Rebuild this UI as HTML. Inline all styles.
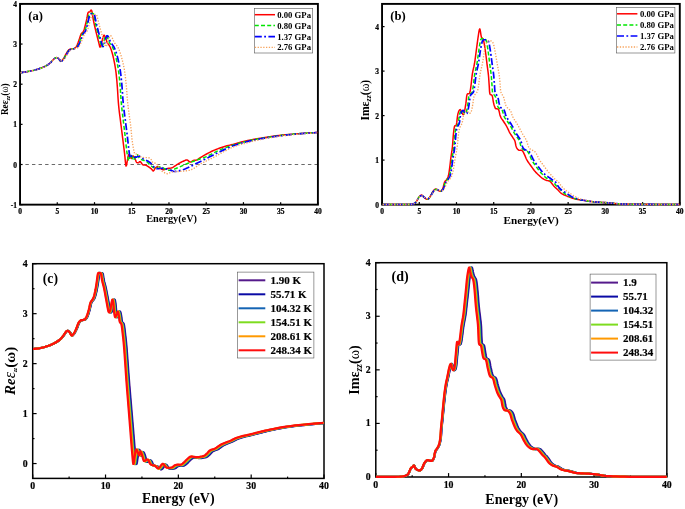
<!DOCTYPE html>
<html><head><meta charset="utf-8"><title>Dielectric function plots</title>
<style>html,body{margin:0;padding:0;background:#fff}svg{display:block;will-change:transform}</style></head>
<body>
<svg width="685" height="509" viewBox="0 0 685 509">
<rect width="685" height="509" fill="#fff"/>
<g id="panelA">
<line x1="20.05" x2="317.9" y1="164.5" y2="164.5" stroke="#444" stroke-width="0.8" stroke-dasharray="3.4 3.17" stroke-dashoffset="1.2"/>
<clipPath id="ca"><rect x="20.05" y="3.9" width="297.84999999999997" height="200.75"/></clipPath>
<rect x="20.05" y="3.9" width="297.84999999999997" height="200.75" fill="none" stroke="#000" stroke-width="1.9"/>
<line x1="20.05" x2="20.05" y1="204.65" y2="202.15" stroke="#000" stroke-width="1.2"/>
<text x="20.05" y="214.0" font-size="7.5" text-anchor="middle" font-family="'Liberation Serif','DejaVu Serif',serif" font-weight="bold"  stroke="#000" stroke-width="0.22">0</text>
<line x1="57.28" x2="57.28" y1="204.65" y2="202.15" stroke="#000" stroke-width="1.2"/>
<text x="57.28" y="214.0" font-size="7.5" text-anchor="middle" font-family="'Liberation Serif','DejaVu Serif',serif" font-weight="bold"  stroke="#000" stroke-width="0.22">5</text>
<line x1="94.51" x2="94.51" y1="204.65" y2="202.15" stroke="#000" stroke-width="1.2"/>
<text x="94.51" y="214.0" font-size="7.5" text-anchor="middle" font-family="'Liberation Serif','DejaVu Serif',serif" font-weight="bold"  stroke="#000" stroke-width="0.22">10</text>
<line x1="131.74" x2="131.74" y1="204.65" y2="202.15" stroke="#000" stroke-width="1.2"/>
<text x="131.74" y="214.0" font-size="7.5" text-anchor="middle" font-family="'Liberation Serif','DejaVu Serif',serif" font-weight="bold"  stroke="#000" stroke-width="0.22">15</text>
<line x1="168.97" x2="168.97" y1="204.65" y2="202.15" stroke="#000" stroke-width="1.2"/>
<text x="168.97" y="214.0" font-size="7.5" text-anchor="middle" font-family="'Liberation Serif','DejaVu Serif',serif" font-weight="bold"  stroke="#000" stroke-width="0.22">20</text>
<line x1="206.21" x2="206.21" y1="204.65" y2="202.15" stroke="#000" stroke-width="1.2"/>
<text x="206.21" y="214.0" font-size="7.5" text-anchor="middle" font-family="'Liberation Serif','DejaVu Serif',serif" font-weight="bold"  stroke="#000" stroke-width="0.22">25</text>
<line x1="243.44" x2="243.44" y1="204.65" y2="202.15" stroke="#000" stroke-width="1.2"/>
<text x="243.44" y="214.0" font-size="7.5" text-anchor="middle" font-family="'Liberation Serif','DejaVu Serif',serif" font-weight="bold"  stroke="#000" stroke-width="0.22">30</text>
<line x1="280.67" x2="280.67" y1="204.65" y2="202.15" stroke="#000" stroke-width="1.2"/>
<text x="280.67" y="214.0" font-size="7.5" text-anchor="middle" font-family="'Liberation Serif','DejaVu Serif',serif" font-weight="bold"  stroke="#000" stroke-width="0.22">35</text>
<line x1="317.90" x2="317.90" y1="204.65" y2="202.15" stroke="#000" stroke-width="1.2"/>
<text x="317.90" y="214.0" font-size="7.5" text-anchor="middle" font-family="'Liberation Serif','DejaVu Serif',serif" font-weight="bold"  stroke="#000" stroke-width="0.22">40</text>
<line x1="20.05" x2="22.55" y1="204.65" y2="204.65" stroke="#000" stroke-width="1.2"/>
<text x="17.0" y="207.65" font-size="7.5" text-anchor="end" font-family="'Liberation Serif','DejaVu Serif',serif" font-weight="bold"  stroke="#000" stroke-width="0.22">-1</text>
<line x1="20.05" x2="22.55" y1="164.50" y2="164.50" stroke="#000" stroke-width="1.2"/>
<text x="17.0" y="167.50" font-size="7.5" text-anchor="end" font-family="'Liberation Serif','DejaVu Serif',serif" font-weight="bold"  stroke="#000" stroke-width="0.22">0</text>
<line x1="20.05" x2="22.55" y1="124.35" y2="124.35" stroke="#000" stroke-width="1.2"/>
<text x="17.0" y="127.35" font-size="7.5" text-anchor="end" font-family="'Liberation Serif','DejaVu Serif',serif" font-weight="bold"  stroke="#000" stroke-width="0.22">1</text>
<line x1="20.05" x2="22.55" y1="84.20" y2="84.20" stroke="#000" stroke-width="1.2"/>
<text x="17.0" y="87.20" font-size="7.5" text-anchor="end" font-family="'Liberation Serif','DejaVu Serif',serif" font-weight="bold"  stroke="#000" stroke-width="0.22">2</text>
<line x1="20.05" x2="22.55" y1="44.05" y2="44.05" stroke="#000" stroke-width="1.2"/>
<text x="17.0" y="47.05" font-size="7.5" text-anchor="end" font-family="'Liberation Serif','DejaVu Serif',serif" font-weight="bold"  stroke="#000" stroke-width="0.22">3</text>
<line x1="20.05" x2="22.55" y1="3.90" y2="3.90" stroke="#000" stroke-width="1.2"/>
<text x="17.0" y="6.90" font-size="7.5" text-anchor="end" font-family="'Liberation Serif','DejaVu Serif',serif" font-weight="bold"  stroke="#000" stroke-width="0.22">4</text>
<text x="171.6" y="222.4" font-size="10.3" text-anchor="middle" font-family="'Liberation Serif','DejaVu Serif',serif" font-weight="bold" >Energy(eV)</text>
<text transform="translate(8.2,99.2) rotate(-90)" font-size="9.3" text-anchor="middle" font-family="'Liberation Serif','DejaVu Serif',serif" font-weight="bold">Reε<tspan font-size="6" font-style="italic" dy="2">zz</tspan><tspan dy="-2">(</tspan><tspan font-weight="normal">ω</tspan>)</text>
<g clip-path="url(#ca)" fill="none" stroke-linejoin="round">
<path d="M20.30,72.80 L21.43,72.60 L23.06,72.33 L24.88,72.01 L26.60,71.70 L28.18,71.42 L29.76,71.14 L31.33,70.84 L32.90,70.50 L34.45,70.11 L36.00,69.68 L37.55,69.21 L39.10,68.70 L40.70,68.15 L42.32,67.56 L43.91,66.91 L45.40,66.20 L46.80,65.40 L48.14,64.52 L49.38,63.61 L50.50,62.70 L51.47,61.76 L52.30,60.78 L53.06,59.86 L53.80,59.10 L54.53,58.49 L55.21,57.98 L55.87,57.64 L56.50,57.50 L57.11,57.64 L57.69,58.00 L58.26,58.49 L58.80,59.00 L59.31,59.65 L59.78,60.46 L60.26,61.13 L60.80,61.40 L61.41,61.15 L62.07,60.54 L62.74,59.71 L63.40,58.80 L64.03,57.78 L64.65,56.59 L65.27,55.36 L65.90,54.20 L66.55,53.07 L67.21,51.93 L67.87,50.90 L68.50,50.10 L69.08,49.60 L69.64,49.32 L70.20,49.16 L70.80,49.00 L71.48,48.87 L72.21,48.82 L72.93,48.75 L73.60,48.60 L74.20,48.36 L74.77,48.08 L75.30,47.70 L75.80,47.20 L76.25,46.58 L76.66,45.85 L77.07,45.00 L77.50,44.00 L77.99,42.79 L78.50,41.40 L79.01,39.96 L79.50,38.60 L79.93,37.30 L80.33,36.02 L80.74,34.82 L81.20,33.80 L81.74,33.10 L82.34,32.64 L82.95,32.13 L83.50,31.30 L83.99,30.01 L84.45,28.43 L84.88,26.74 L85.30,25.10 L85.70,23.55 L86.09,21.99 L86.45,20.44 L86.80,18.90 L87.11,17.25 L87.39,15.52 L87.67,13.96 L88.00,12.80 L88.39,12.23 L88.83,12.08 L89.28,12.07 L89.70,11.90 L90.10,11.41 L90.49,10.79 L90.86,10.27 L91.20,10.10 L91.48,10.31 L91.72,10.77 L91.95,11.52 L92.20,12.60 L92.47,14.09 L92.74,15.96 L93.05,18.02 L93.40,20.10 L93.83,22.24 L94.31,24.49 L94.81,26.75 L95.30,28.90 L95.77,30.89 L96.25,32.78 L96.72,34.64 L97.20,36.50 L97.70,38.48 L98.21,40.52 L98.69,42.43 L99.10,44.00 L99.40,45.28 L99.62,46.34 L99.84,47.04 L100.10,47.20 L100.44,46.65 L100.83,45.52 L101.23,44.13 L101.60,42.80 L101.94,41.51 L102.27,40.13 L102.59,38.81 L102.90,37.70 L103.20,36.77 L103.50,35.98 L103.80,35.41 L104.10,35.20 L104.40,35.41 L104.71,35.98 L105.03,36.78 L105.40,37.70 L105.83,38.85 L106.31,40.25 L106.81,41.65 L107.30,42.80 L107.78,43.58 L108.26,44.12 L108.73,44.64 L109.20,45.30 L109.65,46.11 L110.09,46.98 L110.54,47.99 L111.00,49.20 L111.48,50.61 L111.98,52.20 L112.49,53.99 L113.00,56.00 L113.54,58.36 L114.10,61.02 L114.64,63.75 L115.10,66.30 L115.47,68.52 L115.76,70.56 L116.03,72.67 L116.30,75.10 L116.59,77.98 L116.88,81.16 L117.15,84.46 L117.40,87.70 L117.62,90.92 L117.81,94.18 L118.00,97.35 L118.20,100.30 L118.40,102.86 L118.60,105.15 L118.82,107.44 L119.10,110.00 L119.44,112.89 L119.84,115.96 L120.26,119.21 L120.70,122.60 L121.15,126.20 L121.63,129.99 L122.12,133.87 L122.60,137.70 L123.08,141.52 L123.57,145.37 L124.05,149.16 L124.50,152.80 L124.91,156.68 L125.28,160.70 L125.64,164.07 L126.00,166.00 L126.36,165.90 L126.71,164.33 L127.06,162.17 L127.40,160.30 L127.73,158.71 L128.04,157.01 L128.36,155.53 L128.70,154.60 L129.07,154.40 L129.46,154.74 L129.84,155.33 L130.20,155.90 L130.51,156.56 L130.80,157.39 L131.09,158.10 L131.40,158.40 L131.75,158.02 L132.12,157.19 L132.50,156.33 L132.90,155.90 L133.31,156.01 L133.72,156.42 L134.16,157.05 L134.60,157.80 L135.06,158.81 L135.54,160.08 L136.02,161.31 L136.50,162.20 L136.98,162.66 L137.46,162.85 L137.93,162.87 L138.40,162.80 L138.84,162.53 L139.26,162.04 L139.70,161.64 L140.20,161.60 L140.78,162.13 L141.42,163.04 L142.10,164.00 L142.80,164.70 L143.54,165.00 L144.32,165.07 L145.11,165.12 L145.90,165.30 L146.69,165.68 L147.48,166.17 L148.26,166.69 L149.00,167.20 L149.71,167.67 L150.39,168.15 L151.02,168.62 L151.60,169.10 L152.08,169.69 L152.48,170.37 L152.86,170.88 L153.30,171.00 L153.80,170.51 L154.34,169.59 L154.90,168.58 L155.50,167.80 L156.13,167.27 L156.79,166.85 L157.49,166.60 L158.20,166.60 L158.96,166.99 L159.76,167.68 L160.56,168.44 L161.30,169.00 L161.94,169.34 L162.51,169.58 L163.10,169.71 L163.80,169.70 L164.64,169.50 L165.58,169.13 L166.58,168.72 L167.60,168.40 L168.69,168.23 L169.84,168.14 L170.98,168.03 L172.00,167.80 L172.85,167.43 L173.59,166.97 L174.31,166.45 L175.10,165.90 L175.99,165.31 L176.92,164.67 L177.89,164.02 L178.90,163.40 L179.97,162.81 L181.10,162.22 L182.23,161.67 L183.30,161.20 L184.31,160.75 L185.28,160.33 L186.21,160.04 L187.10,160.00 L187.92,160.38 L188.69,161.07 L189.43,161.76 L190.20,162.10 L191.00,161.93 L191.80,161.46 L192.60,160.91 L193.40,160.50 L194.17,160.34 L194.91,160.29 L195.68,160.23 L196.50,160.00 L197.34,159.58 L198.20,159.05 L199.16,158.42 L200.30,157.70 L201.70,156.86 L203.29,155.91 L204.97,154.92 L206.60,154.00 L208.17,153.15 L209.75,152.32 L211.32,151.54 L212.90,150.80 L214.48,150.12 L216.06,149.48 L217.63,148.88 L219.20,148.30 L220.75,147.74 L222.28,147.19 L223.82,146.68 L225.40,146.20 L226.88,145.81 L228.30,145.48 L229.92,145.11 L232.00,144.60 L234.73,143.86 L237.93,142.96 L241.32,142.03 L244.60,141.20 L247.73,140.50 L250.85,139.86 L253.97,139.27 L257.10,138.70 L260.24,138.16 L263.39,137.64 L266.55,137.16 L269.70,136.70 L272.85,136.26 L276.00,135.85 L279.15,135.46 L282.30,135.10 L285.45,134.76 L288.61,134.46 L291.76,134.17 L294.90,133.90 L298.09,133.65 L301.31,133.41 L304.45,133.20 L307.40,133.00 L310.33,132.81 L313.23,132.64 L315.74,132.50 L317.50,132.40" stroke="#ff0000" stroke-width="1.5"/>
<path d="M20.57,72.75 L21.49,72.59 L22.67,72.39 L23.85,72.19 L25.03,71.98 L26.21,71.77 L27.39,71.56 L28.57,71.35 L29.76,71.14 L30.93,70.92 L32.11,70.67 L33.28,70.40 L34.44,70.11 L35.60,69.79 L36.75,69.45 L37.90,69.09 L39.03,68.72 L40.17,68.33 L41.30,67.93 L42.42,67.50 L43.54,67.05 L44.63,66.56 L45.70,66.02 L46.74,65.42 L47.74,64.77 L48.73,64.08 L49.68,63.35 L50.59,62.58 L51.45,61.74 L52.24,60.84 L53.03,59.93 L53.87,59.08 L54.80,58.33 L55.83,57.77 L56.95,57.70 L57.99,58.20 L58.88,58.98 L59.64,59.90 L60.37,60.80 L61.31,61.12 L62.26,60.59 L63.07,59.71 L63.79,58.75 L64.43,57.75 L65.02,56.70 L65.59,55.65 L66.17,54.60 L66.78,53.56 L67.41,52.54 L68.05,51.53 L68.77,50.57 L69.64,49.77 L70.69,49.25 L71.85,48.97 L73.04,48.81 L74.22,48.62 L75.33,48.21 L76.33,47.57 L77.13,46.69 L77.76,45.68 L78.29,44.61 L78.78,43.51 L79.24,42.40 L79.67,41.28 L80.09,40.16 L80.51,39.03 L80.91,37.90 L81.29,36.76 L81.67,35.63 L82.10,34.51 L82.71,33.49 L83.53,32.64 L84.33,31.77 L84.90,30.73 L85.30,29.60 L85.64,28.45 L85.94,27.29 L86.24,26.13 L86.53,24.97 L86.83,23.80 L87.12,22.64 L87.40,21.47 L87.67,20.30 L87.94,19.13 L88.19,17.96 L88.41,16.78 L88.64,15.60 L88.92,14.44 L89.47,13.52 L90.44,13.35 L91.60,13.46 L92.68,13.36 L93.41,13.71 L93.77,14.77 L93.99,15.95 L94.20,17.13 L94.41,18.31 L94.63,19.49 L94.87,20.67 L95.13,21.84 L95.39,23.01 L95.65,24.18 L95.92,25.35 L96.20,26.52 L96.47,27.69 L96.76,28.85 L97.05,30.02 L97.35,31.18 L97.66,32.34 L97.97,33.50 L98.28,34.66 L98.60,35.81 L98.91,36.97 L99.22,38.13 L99.52,39.29 L99.83,40.45 L100.14,41.61 L100.46,42.77 L100.77,43.93 L101.07,45.09 L101.37,46.22 L101.87,46.76 L102.41,46.06 L102.80,44.94 L103.15,43.80 L103.49,42.65 L103.81,41.49 L104.11,40.33 L104.41,39.17 L104.75,38.01 L105.13,36.88 L105.64,35.86 L106.36,35.66 L106.96,36.51 L107.44,37.61 L107.89,38.72 L108.31,39.84 L108.73,40.97 L109.19,42.07 L109.76,43.12 L110.49,44.07 L111.25,44.98 L111.91,45.98 L112.48,47.04 L112.99,48.12 L113.44,49.23 L113.85,50.36 L114.24,51.50 L114.61,52.64 L114.95,53.79 L115.28,54.94 L115.58,56.10 L115.87,57.27 L116.15,58.44 L116.41,59.61 L116.67,60.78 L116.92,61.95 L117.17,63.13 L117.41,64.30 L117.63,65.48 L117.85,66.66 L118.06,67.84 L118.26,69.03 L118.44,70.21 L118.61,71.40 L118.77,72.59 L118.91,73.78 L119.05,74.97 L119.18,76.17 L119.31,77.36 L119.43,78.55 L119.54,79.75 L119.66,80.94 L119.77,82.14 L119.87,83.33 L119.97,84.53 L120.07,85.72 L120.17,86.92 L120.27,88.12 L120.35,89.31 L120.44,90.51 L120.52,91.71 L120.60,92.90 L120.67,94.10 L120.75,95.30 L120.82,96.50 L120.90,97.69 L120.99,98.89 L121.07,100.09 L121.17,101.28 L121.27,102.48 L121.37,103.68 L121.49,104.87 L121.61,106.06 L121.74,107.26 L121.87,108.45 L122.00,109.64 L122.14,110.83 L122.28,112.03 L122.42,113.22 L122.56,114.41 L122.70,115.60 L122.84,116.79 L122.98,117.99 L123.12,119.18 L123.26,120.37 L123.41,121.56 L123.55,122.75 L123.69,123.94 L123.83,125.13 L123.97,126.33 L124.12,127.52 L124.26,128.71 L124.40,129.90 L124.54,131.09 L124.68,132.28 L124.82,133.48 L124.96,134.67 L125.09,135.86 L125.23,137.05 L125.36,138.25 L125.49,139.44 L125.61,140.63 L125.74,141.83 L125.86,143.02 L125.99,144.21 L126.11,145.41 L126.24,146.60 L126.37,147.79 L126.51,148.98 L126.65,150.18 L126.81,151.37 L126.97,152.55 L127.16,153.74 L127.35,154.92 L127.56,156.11 L127.79,157.28 L128.03,158.46 L128.34,159.61 L128.75,160.57 L129.21,160.46 L129.50,159.41 L129.67,158.23 L129.83,157.04 L130.01,155.85 L130.30,154.77 L130.88,154.49 L131.50,155.29 L132.01,156.37 L132.45,157.48 L132.82,158.62 L133.18,159.75 L133.73,160.38 L134.32,159.83 L134.73,158.73 L135.08,157.58 L135.44,156.44 L135.87,155.33 L136.51,154.55 L137.31,154.76 L137.96,155.69 L138.53,156.75 L139.14,157.77 L139.90,158.68 L140.86,159.35 L141.96,159.81 L143.11,160.16 L144.27,160.47 L145.40,160.85 L146.46,161.39 L147.39,162.12 L148.21,163.00 L149.00,163.89 L149.86,164.73 L150.77,165.52 L151.69,166.29 L152.64,167.02 L153.65,167.66 L154.74,168.10 L155.89,168.15 L157.02,167.82 L158.10,167.31 L159.19,166.83 L160.34,166.64 L161.47,166.89 L162.51,167.45 L163.51,168.11 L164.54,168.73 L165.62,169.23 L166.75,169.64 L167.90,169.98 L169.07,170.20 L170.26,170.23 L171.44,170.07 L172.60,169.75 L173.73,169.34 L174.85,168.91 L175.96,168.48 L177.08,168.02 L178.18,167.55 L179.27,167.06 L180.37,166.58 L181.47,166.09 L182.57,165.61 L183.66,165.12 L184.76,164.63 L185.86,164.16 L186.97,163.70 L188.09,163.26 L189.21,162.83 L190.33,162.41 L191.46,162.00 L192.59,161.59 L193.72,161.18 L194.85,160.78 L195.97,160.37 L197.10,159.97 L198.24,159.57 L199.37,159.18 L200.51,158.80 L201.64,158.41 L202.77,158.01 L203.90,157.59 L205.02,157.15 L206.12,156.69 L207.22,156.20 L208.30,155.68 L209.38,155.15 L210.45,154.61 L211.51,154.05 L212.57,153.50 L213.64,152.94 L214.70,152.39 L215.77,151.84 L216.85,151.32 L217.93,150.80 L219.02,150.29 L220.12,149.82 L221.23,149.35 L222.34,148.90 L223.46,148.46 L224.57,148.03 L225.70,147.60 L226.83,147.19 L227.95,146.79 L229.09,146.39 L230.22,146.00 L231.36,145.62 L232.50,145.24 L233.64,144.88 L234.79,144.52 L235.94,144.17 L237.09,143.83 L238.24,143.50 L239.40,143.17 L240.55,142.86 L241.71,142.55 L242.87,142.25 L244.04,141.95 L245.20,141.66 L246.37,141.38 L247.53,141.10 L248.70,140.83 L249.88,140.57 L251.05,140.32 L252.22,140.07 L253.40,139.83 L254.57,139.59 L255.75,139.36 L256.93,139.14 L258.11,138.92 L259.29,138.70 L260.47,138.49 L261.65,138.28 L262.84,138.08 L264.02,137.89 L265.21,137.70 L266.39,137.51 L267.58,137.33 L268.76,137.14 L269.95,136.96 L271.14,136.79 L272.32,136.62 L273.51,136.45 L274.70,136.28 L275.89,136.12 L277.08,135.96 L278.27,135.80 L279.46,135.65 L280.65,135.50 L281.84,135.36 L283.03,135.22 L284.22,135.08 L285.42,134.94 L286.61,134.81 L287.80,134.69 L289.00,134.56 L290.19,134.44 L291.38,134.33 L292.58,134.21 L293.77,134.10 L294.97,134.00 L296.17,133.90 L297.36,133.80 L298.56,133.71 L299.75,133.62 L300.95,133.53 L302.15,133.45 L303.35,133.37 L304.54,133.29 L305.74,133.21 L306.94,133.13 L308.14,133.05 L309.33,132.98 L310.53,132.90 L311.73,132.83 L312.93,132.76 L314.13,132.69 L315.32,132.62 L316.48,132.56 L317.05,132.53" stroke="#00e600" stroke-width="1.5" stroke-dasharray="4 2.2"/>
<path d="M20.61,72.75 L21.50,72.59 L22.67,72.39 L23.85,72.19 L25.03,71.98 L26.21,71.77 L27.39,71.56 L28.57,71.35 L29.76,71.14 L30.93,70.92 L32.11,70.67 L33.28,70.40 L34.44,70.10 L35.60,69.79 L36.75,69.45 L37.89,69.09 L39.03,68.72 L40.17,68.33 L41.30,67.92 L42.42,67.50 L43.53,67.05 L44.63,66.56 L45.70,66.01 L46.73,65.42 L47.74,64.77 L48.72,64.08 L49.68,63.35 L50.59,62.57 L51.44,61.73 L52.24,60.84 L53.03,59.93 L53.87,59.09 L54.81,58.35 L55.84,57.80 L56.95,57.71 L58.00,58.17 L58.91,58.93 L59.70,59.82 L60.45,60.71 L61.36,61.09 L62.33,60.67 L63.17,59.83 L63.91,58.90 L64.58,57.90 L65.19,56.87 L65.77,55.82 L66.36,54.78 L66.98,53.75 L67.61,52.73 L68.27,51.72 L68.98,50.76 L69.82,49.93 L70.84,49.36 L71.99,49.03 L73.17,48.85 L74.35,48.69 L75.49,48.36 L76.54,47.81 L77.43,47.03 L78.13,46.07 L78.71,45.02 L79.22,43.94 L79.70,42.84 L80.15,41.73 L80.59,40.61 L81.02,39.49 L81.44,38.37 L81.83,37.23 L82.21,36.10 L82.62,34.97 L83.15,33.91 L83.89,32.99 L84.73,32.15 L85.40,31.18 L85.87,30.09 L86.23,28.95 L86.55,27.79 L86.85,26.63 L87.15,25.47 L87.45,24.31 L87.74,23.14 L88.03,21.98 L88.31,20.81 L88.58,19.64 L88.85,18.47 L89.10,17.30 L89.35,16.12 L89.67,14.98 L90.25,14.09 L91.22,13.88 L92.36,13.95 L93.45,13.90 L94.22,14.25 L94.63,15.26 L94.88,16.43 L95.12,17.61 L95.35,18.78 L95.60,19.96 L95.86,21.13 L96.12,22.30 L96.39,23.47 L96.67,24.64 L96.94,25.80 L97.22,26.97 L97.51,28.14 L97.80,29.30 L98.11,30.46 L98.42,31.62 L98.73,32.78 L99.06,33.93 L99.38,35.09 L99.70,36.24 L100.02,37.40 L100.33,38.56 L100.65,39.72 L100.97,40.87 L101.29,42.03 L101.61,43.19 L101.93,44.34 L102.23,45.50 L102.60,46.48 L103.15,46.57 L103.65,45.69 L104.03,44.56 L104.39,43.41 L104.73,42.26 L105.05,41.11 L105.36,39.95 L105.68,38.79 L106.04,37.65 L106.46,36.54 L107.06,35.72 L107.77,35.88 L108.35,36.82 L108.84,37.91 L109.30,39.02 L109.73,40.14 L110.18,41.25 L110.68,42.34 L111.31,43.35 L112.08,44.27 L112.84,45.18 L113.51,46.18 L114.08,47.23 L114.60,48.31 L115.06,49.42 L115.49,50.54 L115.89,51.67 L116.27,52.81 L116.62,53.95 L116.96,55.11 L117.27,56.26 L117.57,57.43 L117.86,58.59 L118.14,59.76 L118.41,60.93 L118.67,62.10 L118.93,63.27 L119.17,64.45 L119.41,65.62 L119.64,66.80 L119.85,67.98 L120.06,69.16 L120.25,70.35 L120.42,71.53 L120.58,72.72 L120.74,73.91 L120.88,75.11 L121.02,76.30 L121.15,77.49 L121.27,78.68 L121.39,79.88 L121.51,81.07 L121.63,82.27 L121.74,83.46 L121.84,84.66 L121.95,85.85 L122.05,87.05 L122.15,88.24 L122.24,89.44 L122.33,90.64 L122.41,91.83 L122.49,93.03 L122.57,94.23 L122.65,95.43 L122.73,96.62 L122.81,97.82 L122.90,99.02 L122.99,100.21 L123.09,101.41 L123.19,102.61 L123.30,103.80 L123.42,104.99 L123.55,106.19 L123.69,107.38 L123.83,108.57 L123.97,109.76 L124.12,110.95 L124.27,112.14 L124.42,113.33 L124.57,114.53 L124.72,115.72 L124.87,116.91 L125.03,118.10 L125.18,119.29 L125.34,120.48 L125.49,121.67 L125.65,122.86 L125.80,124.05 L125.96,125.24 L126.11,126.43 L126.26,127.62 L126.42,128.81 L126.57,130.00 L126.72,131.19 L126.87,132.38 L127.02,133.57 L127.17,134.76 L127.31,135.95 L127.45,137.14 L127.58,138.33 L127.72,139.53 L127.85,140.72 L127.97,141.91 L128.10,143.11 L128.23,144.30 L128.35,145.49 L128.48,146.69 L128.62,147.88 L128.76,149.07 L128.91,150.26 L129.07,151.45 L129.23,152.64 L129.40,153.83 L129.57,155.01 L129.77,156.20 L130.04,157.34 L130.46,158.07 L130.95,157.67 L131.35,156.62 L131.84,155.67 L132.57,155.54 L133.32,156.28 L134.12,157.11 L135.12,157.46 L136.20,157.18 L137.26,156.64 L138.34,156.19 L139.45,156.16 L140.47,156.66 L141.36,157.44 L142.27,158.22 L143.27,158.88 L144.33,159.43 L145.42,159.93 L146.50,160.44 L147.57,160.99 L148.61,161.59 L149.61,162.25 L150.56,162.98 L151.43,163.80 L152.22,164.70 L152.93,165.66 L153.63,166.64 L154.39,167.55 L155.31,168.27 L156.41,168.63 L157.59,168.68 L158.79,168.61 L159.98,168.50 L161.17,168.36 L162.37,168.27 L163.56,168.31 L164.74,168.51 L165.90,168.81 L167.04,169.17 L168.18,169.54 L169.32,169.93 L170.45,170.31 L171.60,170.68 L172.75,171.02 L173.91,171.31 L175.08,171.47 L176.26,171.38 L177.44,171.15 L178.61,170.89 L179.77,170.60 L180.93,170.30 L182.08,169.97 L183.23,169.61 L184.36,169.21 L185.48,168.78 L186.58,168.31 L187.68,167.82 L188.76,167.30 L189.84,166.77 L190.91,166.23 L191.98,165.68 L193.05,165.14 L194.12,164.60 L195.19,164.06 L196.26,163.53 L197.34,163.00 L198.42,162.47 L199.49,161.94 L200.57,161.40 L201.64,160.87 L202.72,160.34 L203.79,159.80 L204.87,159.27 L205.94,158.73 L207.01,158.19 L208.08,157.64 L209.15,157.10 L210.22,156.55 L211.28,156.00 L212.35,155.45 L213.42,154.90 L214.48,154.35 L215.55,153.81 L216.63,153.27 L217.70,152.74 L218.78,152.21 L219.86,151.69 L220.94,151.17 L222.03,150.65 L223.11,150.14 L224.20,149.63 L225.29,149.13 L226.38,148.64 L227.48,148.15 L228.58,147.67 L229.69,147.22 L230.80,146.77 L231.92,146.33 L233.04,145.91 L234.17,145.51 L235.31,145.11 L236.44,144.73 L237.59,144.36 L238.73,144.00 L239.88,143.65 L241.03,143.31 L242.18,142.98 L243.34,142.65 L244.49,142.34 L245.65,142.03 L246.82,141.73 L247.98,141.45 L249.15,141.17 L250.32,140.91 L251.49,140.65 L252.67,140.40 L253.84,140.16 L255.02,139.92 L256.19,139.68 L257.37,139.45 L258.55,139.22 L259.73,139.00 L260.91,138.78 L262.09,138.57 L263.27,138.36 L264.45,138.15 L265.64,137.95 L266.82,137.76 L268.01,137.57 L269.19,137.38 L270.38,137.20 L271.56,137.02 L272.75,136.85 L273.94,136.68 L275.13,136.52 L276.32,136.36 L277.51,136.20 L278.70,136.05 L279.89,135.90 L281.08,135.75 L282.27,135.60 L283.46,135.46 L284.65,135.32 L285.84,135.18 L287.04,135.04 L288.23,134.90 L289.42,134.77 L290.61,134.64 L291.81,134.51 L293.00,134.39 L294.20,134.27 L295.39,134.16 L296.58,134.05 L297.78,133.94 L298.98,133.84 L300.17,133.74 L301.37,133.65 L302.56,133.55 L303.76,133.46 L304.96,133.38 L306.15,133.29 L307.35,133.21 L308.55,133.12 L309.75,133.05 L310.94,132.97 L312.14,132.90 L313.34,132.83 L314.54,132.77 L315.73,132.70 L316.78,132.64 L317.02,132.63" stroke="#0000ff" stroke-width="1.7" stroke-dasharray="7 2.4 1.8 2.4"/>
<path d="M20.69,72.73 L21.53,72.59 L22.67,72.39 L23.85,72.19 L25.03,71.98 L26.21,71.77 L27.39,71.56 L28.57,71.35 L29.75,71.14 L30.93,70.91 L32.11,70.67 L33.28,70.40 L34.44,70.10 L35.60,69.79 L36.75,69.45 L37.89,69.09 L39.03,68.72 L40.17,68.33 L41.30,67.92 L42.42,67.50 L43.53,67.05 L44.62,66.55 L45.69,66.01 L46.73,65.41 L47.74,64.76 L48.73,64.08 L49.68,63.36 L50.61,62.60 L51.49,61.79 L52.34,60.94 L53.17,60.08 L54.05,59.26 L54.99,58.53 L56.01,57.96 L57.11,57.74 L58.18,58.02 L59.14,58.67 L59.98,59.51 L60.75,60.38 L61.61,60.95 L62.57,60.83 L63.46,60.16 L64.25,59.27 L64.96,58.31 L65.60,57.29 L66.20,56.26 L66.80,55.22 L67.42,54.19 L68.06,53.17 L68.72,52.17 L69.42,51.21 L70.22,50.33 L71.17,49.64 L72.26,49.20 L73.42,48.95 L74.60,48.79 L75.78,48.58 L76.89,48.19 L77.90,47.58 L78.75,46.76 L79.43,45.79 L80.01,44.75 L80.53,43.67 L81.02,42.57 L81.49,41.46 L81.94,40.35 L82.38,39.24 L82.81,38.12 L83.22,36.99 L83.63,35.86 L84.10,34.76 L84.70,33.75 L85.49,32.87 L86.32,32.04 L87.01,31.09 L87.51,30.01 L87.90,28.88 L88.24,27.73 L88.57,26.58 L88.89,25.42 L89.21,24.26 L89.52,23.10 L89.83,21.94 L90.12,20.78 L90.43,19.62 L90.73,18.46 L91.02,17.30 L91.35,16.15 L91.82,15.12 L92.60,14.52 L93.66,14.42 L94.81,14.44 L95.86,14.48 L96.60,14.98 L97.03,15.97 L97.33,17.13 L97.60,18.30 L97.88,19.46 L98.16,20.63 L98.45,21.79 L98.74,22.96 L99.03,24.12 L99.32,25.29 L99.62,26.45 L99.92,27.61 L100.23,28.77 L100.55,29.93 L100.88,31.08 L101.22,32.23 L101.56,33.38 L101.91,34.53 L102.25,35.68 L102.59,36.83 L102.93,37.98 L103.27,39.13 L103.61,40.28 L103.95,41.43 L104.30,42.58 L104.64,43.73 L104.97,44.88 L105.33,45.95 L105.81,46.54 L106.37,46.19 L106.85,45.21 L107.24,44.09 L107.62,42.95 L107.98,41.81 L108.31,40.65 L108.65,39.50 L109.01,38.36 L109.42,37.23 L109.93,36.23 L110.60,35.76 L111.30,36.18 L111.88,37.14 L112.39,38.23 L112.86,39.33 L113.33,40.43 L113.82,41.53 L114.38,42.58 L115.07,43.55 L115.86,44.44 L116.64,45.35 L117.31,46.33 L117.91,47.37 L118.45,48.44 L118.94,49.54 L119.39,50.65 L119.81,51.77 L120.21,52.90 L120.59,54.04 L120.95,55.19 L121.28,56.34 L121.61,57.49 L121.91,58.65 L122.21,59.82 L122.50,60.98 L122.78,62.15 L123.06,63.32 L123.32,64.49 L123.58,65.66 L123.82,66.83 L124.05,68.01 L124.27,69.19 L124.48,70.37 L124.66,71.56 L124.84,72.74 L125.00,73.93 L125.16,75.12 L125.31,76.31 L125.45,77.51 L125.58,78.70 L125.71,79.89 L125.84,81.08 L125.96,82.28 L126.08,83.47 L126.20,84.67 L126.31,85.86 L126.42,87.06 L126.52,88.25 L126.62,89.45 L126.72,90.64 L126.81,91.84 L126.89,93.04 L126.98,94.23 L127.06,95.43 L127.15,96.63 L127.24,97.82 L127.34,99.02 L127.44,100.22 L127.55,101.41 L127.66,102.61 L127.78,103.80 L127.91,104.99 L128.05,106.18 L128.19,107.38 L128.34,108.57 L128.49,109.76 L128.65,110.95 L128.81,112.14 L128.98,113.32 L129.15,114.51 L129.32,115.70 L129.49,116.89 L129.66,118.08 L129.83,119.26 L130.00,120.45 L130.16,121.64 L130.32,122.83 L130.47,124.02 L130.62,125.21 L130.75,126.40 L130.87,127.60 L131.00,128.79 L131.11,129.99 L131.22,131.18 L131.33,132.38 L131.44,133.57 L131.55,134.77 L131.66,135.96 L131.79,137.15 L131.92,138.35 L132.05,139.54 L132.21,140.73 L132.37,141.92 L132.54,143.11 L132.72,144.29 L132.91,145.48 L133.11,146.66 L133.31,147.84 L133.52,149.02 L133.75,150.20 L133.99,151.38 L134.26,152.54 L134.63,153.62 L135.23,154.25 L136.04,154.13 L136.94,153.94 L137.82,154.37 L138.64,155.18 L139.51,155.99 L140.50,156.63 L141.60,157.08 L142.75,157.38 L143.93,157.58 L145.12,157.65 L146.31,157.59 L147.50,157.57 L148.66,157.75 L149.76,158.17 L150.69,158.84 L151.35,159.78 L151.78,160.86 L152.30,161.88 L153.13,162.59 L154.22,162.97 L155.36,163.27 L156.41,163.76 L157.27,164.53 L157.95,165.50 L158.52,166.55 L159.06,167.62 L159.62,168.67 L160.28,169.67 L161.08,170.53 L162.04,171.22 L163.08,171.81 L164.11,172.41 L165.11,173.07 L166.14,173.60 L167.24,173.75 L168.35,173.46 L169.42,172.96 L170.50,172.47 L171.64,172.12 L172.82,171.90 L174.01,171.77 L175.20,171.67 L176.40,171.59 L177.60,171.53 L178.80,171.49 L180.00,171.42 L181.19,171.32 L182.39,171.21 L183.58,171.09 L184.77,170.98 L185.97,170.85 L187.16,170.69 L188.34,170.49 L189.51,170.24 L190.66,169.91 L191.78,169.50 L192.86,168.99 L193.90,168.39 L194.90,167.73 L195.87,167.03 L196.84,166.33 L197.82,165.63 L198.81,164.96 L199.83,164.32 L200.87,163.72 L201.92,163.15 L202.99,162.60 L204.06,162.06 L205.14,161.53 L206.21,161.00 L207.29,160.48 L208.37,159.96 L209.45,159.43 L210.53,158.90 L211.60,158.36 L212.67,157.81 L213.73,157.25 L214.78,156.68 L215.83,156.10 L216.88,155.52 L217.93,154.93 L218.97,154.34 L220.02,153.75 L221.07,153.16 L222.11,152.58 L223.17,152.00 L224.22,151.43 L225.28,150.87 L226.35,150.32 L227.42,149.77 L228.49,149.23 L229.56,148.70 L230.64,148.17 L231.72,147.66 L232.81,147.15 L233.91,146.67 L235.02,146.21 L236.14,145.78 L237.27,145.38 L238.42,145.02 L239.57,144.71 L240.74,144.42 L241.91,144.15 L243.07,143.87 L244.24,143.58 L245.40,143.28 L246.56,142.98 L247.72,142.67 L248.88,142.35 L250.04,142.05 L251.20,141.74 L252.36,141.44 L253.52,141.14 L254.69,140.85 L255.85,140.58 L257.02,140.30 L258.20,140.05 L259.37,139.80 L260.54,139.55 L261.72,139.32 L262.90,139.09 L264.08,138.86 L265.26,138.64 L266.44,138.43 L267.62,138.22 L268.80,138.01 L269.98,137.81 L271.17,137.61 L272.35,137.41 L273.54,137.22 L274.72,137.04 L275.91,136.86 L277.09,136.68 L278.28,136.51 L279.47,136.34 L280.66,136.18 L281.85,136.02 L283.04,135.87 L284.23,135.72 L285.42,135.57 L286.61,135.42 L287.80,135.28 L289.00,135.15 L290.19,135.01 L291.38,134.88 L292.57,134.75 L293.77,134.63 L294.96,134.51 L296.16,134.39 L297.35,134.28 L298.55,134.17 L299.74,134.07 L300.94,133.97 L302.13,133.87 L303.33,133.78 L304.53,133.69 L305.72,133.60 L306.92,133.51 L308.12,133.42 L309.31,133.34 L310.51,133.25 L311.71,133.17 L312.90,133.09 L314.10,133.02 L315.29,132.94 L316.38,132.87 L316.90,132.84" stroke="#f7a35c" stroke-width="1.35" stroke-dasharray="1.3 1.5"/>
</g>
<text x="28.3" y="19.8" font-size="12.5" text-anchor="start" font-family="'Liberation Serif','DejaVu Serif',serif" font-weight="bold" >(a)</text>
<rect x="254.3" y="8.3" width="58.4" height="44.7" fill="#fff" stroke="#555" stroke-width="0.6"/>
<line x1="254.8" x2="275" y1="14.7" y2="14.7" stroke="#ff0000" stroke-width="1.5"/>
<text x="277.2" y="17.599999999999998" font-size="8.7" text-anchor="start" font-family="'Liberation Serif','DejaVu Serif',serif" font-weight="bold" >0.00 GPa</text>
<line x1="254.8" x2="275" y1="25.6" y2="25.6" stroke="#00e600" stroke-width="1.5" stroke-dasharray="4 2.2"/>
<text x="277.2" y="28.5" font-size="8.7" text-anchor="start" font-family="'Liberation Serif','DejaVu Serif',serif" font-weight="bold" >0.80 GPa</text>
<line x1="254.8" x2="275" y1="36.7" y2="36.7" stroke="#0000ff" stroke-width="1.7" stroke-dasharray="7 2.4 1.8 2.4"/>
<text x="277.2" y="39.6" font-size="8.7" text-anchor="start" font-family="'Liberation Serif','DejaVu Serif',serif" font-weight="bold" >1.37 GPa</text>
<line x1="254.8" x2="275" y1="47.3" y2="47.3" stroke="#f7a35c" stroke-width="1.35" stroke-dasharray="1.3 1.5"/>
<text x="277.2" y="50.199999999999996" font-size="8.7" text-anchor="start" font-family="'Liberation Serif','DejaVu Serif',serif" font-weight="bold" >2.76 GPa</text>
</g>
<g id="panelB">
<clipPath id="cb"><rect x="382.05" y="3.9" width="297.74999999999994" height="201.89999999999998"/></clipPath>
<rect x="382.05" y="3.9" width="297.74999999999994" height="200.7" fill="none" stroke="#000" stroke-width="1.9"/>
<line x1="382.05" x2="382.05" y1="204.6" y2="202.1" stroke="#000" stroke-width="1.2"/>
<text x="382.05" y="214.0" font-size="7.5" text-anchor="middle" font-family="'Liberation Serif','DejaVu Serif',serif" font-weight="bold"  stroke="#000" stroke-width="0.22">0</text>
<line x1="419.27" x2="419.27" y1="204.6" y2="202.1" stroke="#000" stroke-width="1.2"/>
<text x="419.27" y="214.0" font-size="7.5" text-anchor="middle" font-family="'Liberation Serif','DejaVu Serif',serif" font-weight="bold"  stroke="#000" stroke-width="0.22">5</text>
<line x1="456.49" x2="456.49" y1="204.6" y2="202.1" stroke="#000" stroke-width="1.2"/>
<text x="456.49" y="214.0" font-size="7.5" text-anchor="middle" font-family="'Liberation Serif','DejaVu Serif',serif" font-weight="bold"  stroke="#000" stroke-width="0.22">10</text>
<line x1="493.71" x2="493.71" y1="204.6" y2="202.1" stroke="#000" stroke-width="1.2"/>
<text x="493.71" y="214.0" font-size="7.5" text-anchor="middle" font-family="'Liberation Serif','DejaVu Serif',serif" font-weight="bold"  stroke="#000" stroke-width="0.22">15</text>
<line x1="530.92" x2="530.92" y1="204.6" y2="202.1" stroke="#000" stroke-width="1.2"/>
<text x="530.92" y="214.0" font-size="7.5" text-anchor="middle" font-family="'Liberation Serif','DejaVu Serif',serif" font-weight="bold"  stroke="#000" stroke-width="0.22">20</text>
<line x1="568.14" x2="568.14" y1="204.6" y2="202.1" stroke="#000" stroke-width="1.2"/>
<text x="568.14" y="214.0" font-size="7.5" text-anchor="middle" font-family="'Liberation Serif','DejaVu Serif',serif" font-weight="bold"  stroke="#000" stroke-width="0.22">25</text>
<line x1="605.36" x2="605.36" y1="204.6" y2="202.1" stroke="#000" stroke-width="1.2"/>
<text x="605.36" y="214.0" font-size="7.5" text-anchor="middle" font-family="'Liberation Serif','DejaVu Serif',serif" font-weight="bold"  stroke="#000" stroke-width="0.22">30</text>
<line x1="642.58" x2="642.58" y1="204.6" y2="202.1" stroke="#000" stroke-width="1.2"/>
<text x="642.58" y="214.0" font-size="7.5" text-anchor="middle" font-family="'Liberation Serif','DejaVu Serif',serif" font-weight="bold"  stroke="#000" stroke-width="0.22">35</text>
<line x1="679.80" x2="679.80" y1="204.6" y2="202.1" stroke="#000" stroke-width="1.2"/>
<text x="679.80" y="214.0" font-size="7.5" text-anchor="middle" font-family="'Liberation Serif','DejaVu Serif',serif" font-weight="bold"  stroke="#000" stroke-width="0.22">40</text>
<line x1="382.05" x2="384.55" y1="204.60" y2="204.60" stroke="#000" stroke-width="1.2"/>
<text x="379.0" y="207.60" font-size="7.5" text-anchor="end" font-family="'Liberation Serif','DejaVu Serif',serif" font-weight="bold"  stroke="#000" stroke-width="0.22">0</text>
<line x1="382.05" x2="384.55" y1="160.10" y2="160.10" stroke="#000" stroke-width="1.2"/>
<text x="379.0" y="163.10" font-size="7.5" text-anchor="end" font-family="'Liberation Serif','DejaVu Serif',serif" font-weight="bold"  stroke="#000" stroke-width="0.22">1</text>
<line x1="382.05" x2="384.55" y1="115.60" y2="115.60" stroke="#000" stroke-width="1.2"/>
<text x="379.0" y="118.60" font-size="7.5" text-anchor="end" font-family="'Liberation Serif','DejaVu Serif',serif" font-weight="bold"  stroke="#000" stroke-width="0.22">2</text>
<line x1="382.05" x2="384.55" y1="71.10" y2="71.10" stroke="#000" stroke-width="1.2"/>
<text x="379.0" y="74.10" font-size="7.5" text-anchor="end" font-family="'Liberation Serif','DejaVu Serif',serif" font-weight="bold"  stroke="#000" stroke-width="0.22">3</text>
<line x1="382.05" x2="384.55" y1="26.60" y2="26.60" stroke="#000" stroke-width="1.2"/>
<text x="379.0" y="29.60" font-size="7.5" text-anchor="end" font-family="'Liberation Serif','DejaVu Serif',serif" font-weight="bold"  stroke="#000" stroke-width="0.22">4</text>
<text x="531.2" y="223.5" font-size="11.2" text-anchor="middle" font-family="'Liberation Serif','DejaVu Serif',serif" font-weight="bold" >Energy(eV)</text>
<text transform="translate(369.0,100.2) rotate(-90)" font-size="11.6" text-anchor="middle" font-family="'Liberation Serif','DejaVu Serif',serif" font-weight="bold">Imε<tspan font-size="8" font-style="italic" dy="2.4">zz</tspan><tspan dy="-2.4">(</tspan><tspan font-weight="normal">ω</tspan>)</text>
<g clip-path="url(#cb)" fill="none" stroke-linejoin="round">
<path d="M382.00,204.50 L385.39,204.50 L390.28,204.51 L395.54,204.51 L400.00,204.50 L403.55,204.49 L406.73,204.48 L409.42,204.45 L411.50,204.40 L412.72,204.37 L413.21,204.34 L413.43,204.25 L413.80,204.00 L414.41,203.59 L415.03,203.05 L415.66,202.39 L416.30,201.60 L416.95,200.59 L417.60,199.39 L418.25,198.19 L418.90,197.20 L419.55,196.41 L420.19,195.72 L420.82,195.23 L421.40,195.00 L421.90,195.12 L422.35,195.53 L422.80,196.07 L423.30,196.60 L423.88,197.15 L424.51,197.78 L425.16,198.37 L425.80,198.80 L426.43,199.10 L427.05,199.33 L427.68,199.36 L428.30,199.10 L428.93,198.45 L429.55,197.49 L430.18,196.39 L430.80,195.30 L431.43,194.18 L432.05,192.98 L432.68,191.84 L433.30,190.90 L433.92,190.17 L434.54,189.58 L435.17,189.18 L435.80,189.00 L436.45,189.15 L437.10,189.58 L437.75,190.09 L438.40,190.50 L439.05,190.84 L439.69,191.17 L440.32,191.38 L440.90,191.30 L441.42,190.91 L441.89,190.29 L442.35,189.45 L442.80,188.40 L443.25,186.97 L443.70,185.23 L444.15,183.49 L444.60,182.10 L445.07,181.24 L445.54,180.69 L446.02,180.23 L446.50,179.60 L446.99,178.84 L447.49,178.06 L447.97,177.09 L448.40,175.80 L448.77,174.10 L449.09,172.09 L449.40,169.88 L449.70,167.60 L450.00,165.24 L450.29,162.75 L450.58,160.18 L450.90,157.60 L451.27,155.02 L451.67,152.41 L452.06,149.74 L452.40,147.00 L452.66,144.08 L452.87,141.04 L453.07,138.05 L453.30,135.30 L453.56,132.73 L453.84,130.29 L454.14,128.15 L454.50,126.50 L454.94,125.75 L455.43,125.67 L455.94,125.53 L456.40,124.60 L456.78,122.40 L457.12,119.41 L457.48,116.34 L457.90,113.90 L458.43,112.16 L459.02,110.79 L459.63,109.88 L460.20,109.50 L460.71,109.95 L461.18,111.09 L461.64,112.38 L462.10,113.30 L462.55,113.92 L463.00,114.46 L463.45,114.57 L463.90,113.90 L464.38,112.13 L464.88,109.53 L465.36,106.61 L465.80,103.90 L466.14,101.30 L466.41,98.60 L466.70,96.18 L467.10,94.40 L467.67,93.67 L468.34,93.69 L469.02,93.76 L469.60,93.20 L470.03,91.83 L470.37,90.02 L470.68,87.87 L471.00,85.50 L471.33,82.78 L471.66,79.70 L472.00,76.55 L472.40,73.60 L472.88,71.04 L473.42,68.67 L473.97,66.24 L474.50,63.50 L474.99,60.31 L475.46,56.84 L475.93,53.24 L476.40,49.70 L476.88,46.07 L477.37,42.32 L477.85,38.79 L478.30,35.80 L478.70,33.23 L479.07,30.97 L479.43,29.40 L479.80,28.90 L480.19,30.02 L480.57,32.41 L480.98,35.10 L481.40,37.10 L481.85,37.95 L482.33,38.23 L482.82,38.57 L483.30,39.60 L483.78,41.47 L484.25,43.86 L484.73,46.65 L485.20,49.70 L485.69,53.24 L486.19,57.26 L486.67,61.27 L487.10,64.80 L487.48,67.64 L487.82,70.07 L488.12,72.37 L488.40,74.80 L488.64,77.48 L488.84,80.26 L489.02,82.98 L489.20,85.50 L489.34,87.89 L489.46,90.20 L489.61,92.23 L489.90,93.80 L490.39,94.61 L491.01,94.84 L491.66,95.02 L492.20,95.70 L492.58,97.10 L492.88,98.91 L493.16,100.84 L493.50,102.60 L493.90,104.21 L494.34,105.81 L494.83,107.22 L495.40,108.30 L496.12,108.78 L496.95,108.83 L497.78,108.90 L498.50,109.50 L499.03,110.87 L499.44,112.71 L499.86,114.67 L500.40,116.40 L501.11,117.80 L501.92,119.07 L502.78,120.27 L503.60,121.50 L504.38,122.73 L505.16,123.93 L505.93,125.16 L506.70,126.50 L507.47,128.01 L508.24,129.65 L509.02,131.29 L509.80,132.80 L510.62,134.18 L511.48,135.49 L512.29,136.71 L513.00,137.80 L513.58,138.66 L514.06,139.34 L514.49,140.05 L514.90,141.00 L515.26,142.37 L515.56,144.00 L515.88,145.63 L516.30,147.00 L516.83,148.07 L517.44,148.96 L518.10,149.68 L518.80,150.20 L519.57,150.37 L520.40,150.24 L521.23,150.14 L522.00,150.40 L522.67,151.14 L523.29,152.16 L523.89,153.36 L524.50,154.60 L525.08,155.89 L525.63,157.27 L526.24,158.72 L527.00,160.20 L527.98,161.75 L529.12,163.38 L530.30,164.99 L531.40,166.50 L532.39,167.89 L533.34,169.21 L534.27,170.45 L535.20,171.60 L536.13,172.64 L537.05,173.57 L537.97,174.44 L538.90,175.30 L539.84,176.17 L540.79,177.01 L541.75,177.80 L542.70,178.50 L543.66,179.09 L544.62,179.59 L545.57,180.02 L546.50,180.40 L547.39,180.63 L548.25,180.73 L549.11,180.92 L550.00,181.40 L550.93,182.32 L551.88,183.54 L552.84,184.84 L553.80,186.00 L554.75,186.97 L555.71,187.85 L556.66,188.71 L557.60,189.60 L558.50,190.57 L559.37,191.57 L560.28,192.54 L561.30,193.40 L562.48,194.13 L563.77,194.77 L565.10,195.35 L566.40,195.90 L567.66,196.43 L568.91,196.91 L570.15,197.37 L571.40,197.80 L572.62,198.21 L573.82,198.61 L575.06,198.97 L576.40,199.30 L577.88,199.59 L579.47,199.83 L581.09,200.06 L582.70,200.30 L584.22,200.55 L585.69,200.81 L587.25,201.06 L589.00,201.30 L590.99,201.54 L593.16,201.78 L595.45,202.00 L597.80,202.20 L600.18,202.36 L602.62,202.49 L605.18,202.62 L607.90,202.80 L610.69,203.06 L613.56,203.36 L616.72,203.66 L620.40,203.90 L624.79,204.05 L629.73,204.16 L634.91,204.23 L640.00,204.30 L644.98,204.37 L649.99,204.43 L655.00,204.47 L660.00,204.50 L665.43,204.51 L671.15,204.51 L676.25,204.50 L679.80,204.50" stroke="#ff0000" stroke-width="1.5"/>
<path d="M382.47,204.50 L383.30,204.50 L384.41,204.50 L385.60,204.50 L386.80,204.50 L388.00,204.50 L389.20,204.51 L390.40,204.51 L391.60,204.51 L392.80,204.51 L394.00,204.51 L395.20,204.51 L396.40,204.51 L397.60,204.50 L398.80,204.50 L400.00,204.50 L401.20,204.50 L402.40,204.49 L403.60,204.49 L404.80,204.48 L406.00,204.48 L407.20,204.47 L408.40,204.46 L409.60,204.44 L410.80,204.41 L411.99,204.34 L413.12,204.11 L414.16,203.62 L415.09,202.90 L415.90,202.03 L416.62,201.08 L417.26,200.07 L417.86,199.03 L418.49,198.01 L419.18,197.04 L419.98,196.18 L420.88,195.59 L421.85,195.52 L422.77,196.01 L423.63,196.78 L424.51,197.60 L425.44,198.33 L426.46,198.87 L427.52,199.03 L428.51,198.70 L429.33,197.94 L430.00,196.97 L430.62,195.95 L431.21,194.90 L431.80,193.86 L432.38,192.81 L433.00,191.78 L433.70,190.82 L434.53,190.00 L435.49,189.47 L436.53,189.42 L437.57,189.81 L438.60,190.38 L439.66,190.86 L440.72,191.02 L441.69,190.67 L442.47,189.89 L443.07,188.88 L443.53,187.78 L443.92,186.65 L444.26,185.50 L444.60,184.35 L444.98,183.21 L445.45,182.13 L446.09,181.13 L446.83,180.20 L447.58,179.27 L448.25,178.29 L448.83,177.25 L449.29,176.15 L449.63,175.00 L449.90,173.83 L450.12,172.66 L450.32,171.47 L450.50,170.29 L450.68,169.10 L450.85,167.91 L451.02,166.72 L451.18,165.53 L451.33,164.34 L451.49,163.15 L451.64,161.96 L451.79,160.77 L451.94,159.58 L452.10,158.39 L452.27,157.21 L452.45,156.02 L452.64,154.84 L452.84,153.65 L453.03,152.47 L453.22,151.28 L453.41,150.10 L453.58,148.91 L453.74,147.72 L453.88,146.53 L454.00,145.34 L454.11,144.14 L454.21,142.94 L454.30,141.75 L454.39,140.55 L454.47,139.35 L454.57,138.16 L454.67,136.96 L454.78,135.77 L454.90,134.57 L455.02,133.38 L455.16,132.19 L455.30,131.00 L455.46,129.81 L455.65,128.63 L455.93,127.48 L456.38,126.47 L457.05,125.63 L457.71,124.78 L458.14,123.75 L458.39,122.59 L458.57,121.41 L458.72,120.22 L458.86,119.03 L459.01,117.84 L459.17,116.65 L459.36,115.46 L459.59,114.29 L459.91,113.14 L460.32,112.02 L460.85,111.00 L461.52,110.29 L462.25,110.26 L462.88,110.94 L463.41,111.95 L463.96,112.97 L464.64,113.73 L465.36,113.87 L465.93,113.26 L466.32,112.22 L466.60,111.07 L466.84,109.89 L467.06,108.71 L467.27,107.53 L467.47,106.35 L467.67,105.17 L467.85,103.98 L468.03,102.79 L468.18,101.60 L468.33,100.41 L468.46,99.22 L468.60,98.03 L468.77,96.84 L469.01,95.69 L469.44,94.67 L470.16,93.96 L471.04,93.44 L471.78,92.72 L472.24,91.71 L472.53,90.57 L472.74,89.39 L472.93,88.20 L473.10,87.02 L473.27,85.83 L473.43,84.64 L473.58,83.45 L473.72,82.26 L473.85,81.06 L473.99,79.87 L474.12,78.68 L474.26,77.49 L474.41,76.30 L474.57,75.11 L474.75,73.92 L474.96,72.74 L475.19,71.56 L475.45,70.39 L475.72,69.22 L475.99,68.05 L476.27,66.89 L476.52,65.71 L476.76,64.54 L476.98,63.36 L477.18,62.17 L477.36,60.99 L477.54,59.80 L477.70,58.61 L477.86,57.42 L478.02,56.23 L478.18,55.05 L478.34,53.86 L478.50,52.67 L478.67,51.48 L478.85,50.29 L479.03,49.11 L479.21,47.92 L479.39,46.73 L479.58,45.55 L479.77,44.36 L479.97,43.18 L480.18,42.00 L480.42,40.83 L480.73,39.71 L481.20,38.88 L481.94,38.58 L482.92,38.65 L484.02,38.77 L485.02,39.02 L485.76,39.68 L486.23,40.69 L486.54,41.84 L486.79,43.01 L487.01,44.19 L487.22,45.37 L487.42,46.55 L487.61,47.74 L487.79,48.92 L487.97,50.11 L488.14,51.30 L488.31,52.49 L488.47,53.68 L488.62,54.87 L488.77,56.06 L488.92,57.25 L489.07,58.44 L489.22,59.63 L489.36,60.82 L489.51,62.01 L489.66,63.20 L489.81,64.39 L489.97,65.58 L490.13,66.77 L490.29,67.96 L490.46,69.15 L490.63,70.34 L490.79,71.53 L490.94,72.72 L491.08,73.91 L491.21,75.10 L491.32,76.29 L491.42,77.49 L491.52,78.69 L491.61,79.88 L491.69,81.08 L491.78,82.28 L491.86,83.47 L491.95,84.67 L492.03,85.87 L492.11,87.07 L492.18,88.26 L492.26,89.46 L492.34,90.66 L492.47,91.85 L492.71,92.99 L493.20,93.99 L493.95,94.78 L494.75,95.53 L495.34,96.48 L495.69,97.59 L495.92,98.76 L496.13,99.94 L496.34,101.12 L496.59,102.30 L496.88,103.46 L497.20,104.62 L497.56,105.76 L498.01,106.85 L498.62,107.81 L499.48,108.49 L500.50,108.92 L501.46,109.44 L502.16,110.27 L502.62,111.34 L502.94,112.48 L503.24,113.65 L503.55,114.80 L503.94,115.93 L504.43,117.02 L505.02,118.05 L505.69,119.05 L506.39,120.02 L507.09,120.99 L507.79,121.97 L508.47,122.96 L509.15,123.95 L509.81,124.95 L510.45,125.97 L511.05,127.00 L511.63,128.05 L512.18,129.12 L512.73,130.19 L513.29,131.25 L513.87,132.30 L514.48,133.33 L515.14,134.33 L515.81,135.32 L516.51,136.30 L517.20,137.28 L517.90,138.26 L518.57,139.25 L519.17,140.28 L519.63,141.37 L519.97,142.51 L520.25,143.68 L520.51,144.85 L520.84,146.00 L521.27,147.11 L521.85,148.14 L522.59,149.05 L523.49,149.75 L524.54,150.14 L525.66,150.32 L526.69,150.66 L527.54,151.35 L528.20,152.31 L528.76,153.37 L529.28,154.45 L529.77,155.54 L530.23,156.65 L530.69,157.76 L531.18,158.85 L531.71,159.92 L532.31,160.97 L532.94,161.98 L533.61,162.98 L534.30,163.96 L534.99,164.94 L535.69,165.92 L536.38,166.90 L537.07,167.88 L537.76,168.86 L538.47,169.83 L539.19,170.78 L539.95,171.71 L540.75,172.61 L541.58,173.48 L542.43,174.32 L543.28,175.17 L544.13,176.01 L544.98,176.86 L545.86,177.68 L546.77,178.45 L547.74,179.15 L548.77,179.76 L549.85,180.26 L550.96,180.67 L552.04,181.12 L553.00,181.77 L553.82,182.62 L554.55,183.56 L555.27,184.52 L556.01,185.46 L556.81,186.35 L557.67,187.19 L558.56,187.99 L559.46,188.78 L560.35,189.59 L561.21,190.42 L562.05,191.28 L562.90,192.13 L563.78,192.93 L564.72,193.68 L565.71,194.35 L566.74,194.96 L567.79,195.53 L568.87,196.07 L569.95,196.58 L571.04,197.07 L572.15,197.53 L573.27,197.96 L574.40,198.36 L575.54,198.73 L576.70,199.06 L577.86,199.35 L579.04,199.59 L580.22,199.79 L581.40,199.98 L582.59,200.17 L583.77,200.37 L584.95,200.57 L586.13,200.78 L587.32,200.98 L588.50,201.17 L589.69,201.33 L590.88,201.48 L592.07,201.62 L593.27,201.75 L594.46,201.87 L595.65,201.99 L596.85,202.10 L598.05,202.19 L599.24,202.28 L600.44,202.36 L601.64,202.43 L602.84,202.49 L604.03,202.55 L605.23,202.62 L606.43,202.70 L607.63,202.78 L608.82,202.88 L610.02,202.99 L611.21,203.11 L612.41,203.23 L613.60,203.36 L614.79,203.47 L615.99,203.58 L617.18,203.68 L618.38,203.77 L619.58,203.84 L620.78,203.90 L621.98,203.95 L623.17,204.00 L624.37,204.04 L625.57,204.07 L626.77,204.09 L627.97,204.12 L629.17,204.14 L630.37,204.16 L631.57,204.18 L632.77,204.20 L633.97,204.22 L635.17,204.23 L636.37,204.25 L637.57,204.27 L638.77,204.28 L639.97,204.30 L641.17,204.32 L642.37,204.33 L643.57,204.35 L644.77,204.36 L645.97,204.38 L647.17,204.39 L648.37,204.41 L649.57,204.42 L650.77,204.43 L651.97,204.44 L653.17,204.45 L654.37,204.46 L655.57,204.47 L656.77,204.48 L657.97,204.49 L659.17,204.49 L660.37,204.50 L661.57,204.50 L662.77,204.51 L663.97,204.51 L665.17,204.51 L666.37,204.51 L667.57,204.51 L668.77,204.51 L669.97,204.51 L671.17,204.51 L672.37,204.51 L673.57,204.51 L674.77,204.51 L675.97,204.51 L677.16,204.50 L678.28,204.50 L679.10,204.50 L679.10,204.50" stroke="#00e600" stroke-width="1.5" stroke-dasharray="4 2.2"/>
<path d="M382.59,204.50 L383.37,204.50 L384.43,204.50 L385.60,204.50 L386.80,204.50 L388.00,204.50 L389.20,204.51 L390.40,204.51 L391.60,204.51 L392.80,204.51 L394.00,204.51 L395.20,204.51 L396.40,204.51 L397.60,204.50 L398.80,204.50 L400.00,204.50 L401.20,204.50 L402.40,204.49 L403.60,204.49 L404.80,204.48 L406.00,204.48 L407.20,204.47 L408.40,204.46 L409.60,204.44 L410.80,204.40 L411.97,204.30 L413.10,204.04 L414.14,203.56 L415.06,202.87 L415.89,202.02 L416.61,201.08 L417.27,200.08 L417.89,199.06 L418.53,198.05 L419.24,197.09 L420.03,196.27 L420.93,195.73 L421.87,195.66 L422.79,196.06 L423.67,196.76 L424.56,197.54 L425.50,198.24 L426.50,198.75 L427.54,198.91 L428.51,198.62 L429.35,197.95 L430.06,197.03 L430.69,196.02 L431.30,194.99 L431.88,193.94 L432.48,192.90 L433.11,191.89 L433.82,190.94 L434.64,190.14 L435.58,189.63 L436.60,189.52 L437.64,189.81 L438.68,190.30 L439.73,190.74 L440.79,190.91 L441.77,190.66 L442.60,190.00 L443.26,189.07 L443.79,188.02 L444.22,186.91 L444.60,185.77 L444.96,184.63 L445.36,183.50 L445.84,182.42 L446.45,181.41 L447.17,180.48 L447.93,179.56 L448.65,178.61 L449.28,177.60 L449.80,176.53 L450.21,175.42 L450.53,174.26 L450.78,173.09 L451.00,171.92 L451.20,170.73 L451.39,169.55 L451.57,168.36 L451.75,167.17 L451.92,165.99 L452.09,164.80 L452.25,163.61 L452.41,162.42 L452.57,161.23 L452.74,160.04 L452.90,158.85 L453.08,157.67 L453.27,156.48 L453.46,155.30 L453.66,154.12 L453.87,152.93 L454.07,151.75 L454.27,150.57 L454.46,149.38 L454.63,148.19 L454.78,147.00 L454.92,145.81 L455.04,144.62 L455.15,143.42 L455.25,142.23 L455.34,141.03 L455.43,139.83 L455.53,138.64 L455.63,137.44 L455.74,136.25 L455.86,135.05 L455.98,133.86 L456.12,132.67 L456.26,131.48 L456.42,130.29 L456.61,129.11 L456.87,127.96 L457.26,126.90 L457.83,125.98 L458.47,125.12 L459.00,124.17 L459.34,123.08 L459.57,121.92 L459.74,120.73 L459.89,119.54 L460.04,118.35 L460.20,117.17 L460.38,115.98 L460.61,114.80 L460.90,113.65 L461.28,112.52 L461.76,111.48 L462.38,110.68 L463.08,110.37 L463.75,110.69 L464.34,111.50 L464.91,112.47 L465.54,113.30 L466.22,113.71 L466.86,113.49 L467.36,112.71 L467.71,111.64 L467.98,110.49 L468.22,109.31 L468.43,108.13 L468.64,106.95 L468.85,105.77 L469.05,104.58 L469.23,103.40 L469.40,102.21 L469.55,101.02 L469.69,99.83 L469.84,98.64 L470.00,97.45 L470.22,96.29 L470.58,95.23 L471.15,94.36 L471.93,93.72 L472.71,93.08 L473.33,92.24 L473.73,91.19 L474.01,90.04 L474.22,88.86 L474.40,87.68 L474.58,86.49 L474.74,85.30 L474.90,84.11 L475.05,82.92 L475.20,81.73 L475.33,80.54 L475.47,79.35 L475.61,78.16 L475.76,76.97 L475.92,75.78 L476.09,74.59 L476.29,73.41 L476.51,72.23 L476.76,71.05 L477.02,69.88 L477.30,68.72 L477.58,67.55 L477.85,66.38 L478.10,65.21 L478.34,64.03 L478.56,62.85 L478.76,61.67 L478.94,60.48 L479.12,59.30 L479.29,58.11 L479.46,56.92 L479.63,55.73 L479.80,54.55 L479.97,53.36 L480.15,52.17 L480.34,50.99 L480.54,49.80 L480.74,48.62 L480.95,47.44 L481.17,46.26 L481.40,45.08 L481.64,43.90 L481.90,42.74 L482.21,41.61 L482.64,40.63 L483.26,40.00 L484.11,39.77 L485.13,39.74 L486.18,39.72 L487.14,39.83 L487.89,40.31 L488.41,41.18 L488.77,42.27 L489.06,43.43 L489.30,44.60 L489.53,45.78 L489.74,46.96 L489.95,48.14 L490.14,49.33 L490.33,50.51 L490.51,51.70 L490.69,52.89 L490.85,54.07 L491.01,55.26 L491.17,56.45 L491.33,57.64 L491.48,58.83 L491.64,60.02 L491.79,61.21 L491.94,62.40 L492.10,63.59 L492.26,64.78 L492.43,65.97 L492.60,67.16 L492.77,68.34 L492.95,69.53 L493.12,70.72 L493.28,71.91 L493.44,73.10 L493.58,74.29 L493.71,75.48 L493.83,76.68 L493.93,77.87 L494.03,79.07 L494.12,80.26 L494.21,81.46 L494.29,82.66 L494.38,83.85 L494.47,85.05 L494.55,86.25 L494.62,87.45 L494.69,88.64 L494.77,89.84 L494.87,91.03 L495.05,92.20 L495.38,93.29 L495.93,94.23 L496.64,95.05 L497.31,95.92 L497.80,96.92 L498.11,98.05 L498.34,99.22 L498.55,100.40 L498.77,101.58 L499.02,102.75 L499.31,103.91 L499.64,105.06 L500.04,106.18 L500.55,107.21 L501.26,108.05 L502.15,108.66 L503.09,109.20 L503.90,109.90 L504.47,110.84 L504.86,111.93 L505.17,113.09 L505.47,114.24 L505.82,115.39 L506.25,116.50 L506.78,117.57 L507.39,118.59 L508.05,119.59 L508.73,120.58 L509.41,121.57 L510.08,122.56 L510.74,123.56 L511.39,124.57 L512.02,125.60 L512.62,126.63 L513.19,127.69 L513.74,128.76 L514.28,129.83 L514.82,130.90 L515.37,131.96 L515.96,133.01 L516.59,134.03 L517.24,135.04 L517.90,136.04 L518.58,137.03 L519.25,138.02 L519.91,139.02 L520.49,140.06 L520.97,141.14 L521.34,142.27 L521.63,143.43 L521.90,144.60 L522.21,145.75 L522.61,146.87 L523.15,147.92 L523.84,148.84 L524.70,149.57 L525.71,150.02 L526.79,150.29 L527.84,150.61 L528.76,151.18 L529.51,152.02 L530.14,153.02 L530.70,154.08 L531.22,155.16 L531.71,156.25 L532.20,157.34 L532.71,158.43 L533.25,159.50 L533.84,160.54 L534.49,161.55 L535.17,162.54 L535.87,163.51 L536.58,164.47 L537.30,165.43 L538.02,166.39 L538.74,167.35 L539.46,168.31 L540.19,169.27 L540.93,170.21 L541.69,171.14 L542.48,172.04 L543.30,172.91 L544.16,173.75 L545.05,174.56 L545.97,175.32 L546.93,176.04 L547.91,176.72 L548.91,177.39 L549.90,178.06 L550.89,178.74 L551.87,179.43 L552.86,180.07 L553.87,180.69 L554.80,181.35 L555.61,182.17 L556.28,183.13 L556.89,184.16 L557.50,185.19 L558.14,186.20 L558.83,187.18 L559.59,188.10 L560.41,188.96 L561.30,189.76 L562.25,190.49 L563.24,191.17 L564.24,191.83 L565.25,192.47 L566.26,193.13 L567.25,193.79 L568.24,194.47 L569.24,195.14 L570.25,195.79 L571.28,196.39 L572.34,196.94 L573.43,197.46 L574.53,197.93 L575.65,198.36 L576.78,198.75 L577.93,199.09 L579.09,199.39 L580.26,199.64 L581.44,199.85 L582.63,200.06 L583.81,200.27 L584.99,200.48 L586.17,200.70 L587.35,200.92 L588.53,201.12 L589.72,201.29 L590.91,201.45 L592.10,201.60 L593.29,201.73 L594.48,201.86 L595.68,201.97 L596.87,202.08 L598.07,202.18 L599.26,202.27 L600.46,202.35 L601.66,202.42 L602.86,202.48 L604.06,202.55 L605.25,202.62 L606.45,202.70 L607.65,202.78 L608.84,202.88 L610.04,202.99 L611.23,203.11 L612.43,203.23 L613.62,203.35 L614.81,203.47 L616.01,203.58 L617.21,203.68 L618.40,203.76 L619.60,203.84 L620.80,203.90 L622.00,203.95 L623.20,204.00 L624.40,204.03 L625.60,204.07 L626.79,204.09 L627.99,204.12 L629.19,204.14 L630.39,204.16 L631.59,204.18 L632.79,204.20 L633.99,204.22 L635.19,204.23 L636.39,204.25 L637.59,204.27 L638.79,204.28 L639.99,204.30 L641.19,204.32 L642.39,204.33 L643.59,204.35 L644.79,204.36 L645.99,204.38 L647.19,204.39 L648.39,204.41 L649.59,204.42 L650.79,204.43 L651.99,204.44 L653.19,204.45 L654.39,204.46 L655.59,204.47 L656.79,204.48 L657.99,204.49 L659.19,204.49 L660.39,204.50 L661.59,204.50 L662.79,204.51 L663.99,204.51 L665.19,204.51 L666.39,204.51 L667.59,204.51 L668.79,204.51 L669.99,204.51 L671.19,204.51 L672.39,204.51 L673.59,204.51 L674.79,204.51 L675.99,204.51 L677.16,204.50 L678.22,204.50 L679.00,204.50 L679.00,204.50" stroke="#0000ff" stroke-width="1.7" stroke-dasharray="7 2.4 1.8 2.4"/>
<path d="M382.87,204.50 L383.60,204.50 L384.55,204.50 L385.64,204.50 L386.81,204.50 L388.00,204.50 L389.20,204.51 L390.40,204.51 L391.60,204.51 L392.80,204.51 L394.00,204.51 L395.20,204.51 L396.40,204.50 L397.60,204.50 L398.80,204.50 L400.00,204.50 L401.20,204.50 L402.40,204.49 L403.60,204.49 L404.80,204.48 L406.00,204.47 L407.20,204.46 L408.40,204.45 L409.59,204.41 L410.78,204.33 L411.93,204.17 L413.03,203.87 L414.06,203.40 L414.99,202.76 L415.83,201.96 L416.59,201.07 L417.29,200.10 L417.96,199.12 L418.64,198.16 L419.37,197.27 L420.17,196.56 L421.03,196.11 L421.94,196.01 L422.85,196.26 L423.77,196.77 L424.69,197.40 L425.64,198.00 L426.62,198.43 L427.60,198.58 L428.54,198.39 L429.40,197.87 L430.17,197.10 L430.85,196.18 L431.49,195.18 L432.11,194.16 L432.73,193.14 L433.39,192.16 L434.11,191.26 L434.92,190.52 L435.82,190.01 L436.79,189.81 L437.81,189.90 L438.86,190.18 L439.91,190.48 L440.95,190.64 L441.95,190.54 L442.86,190.12 L443.65,189.43 L444.32,188.53 L444.88,187.51 L445.36,186.43 L445.81,185.33 L446.26,184.22 L446.77,183.16 L447.36,182.14 L448.03,181.18 L448.78,180.27 L449.54,179.36 L450.27,178.43 L450.93,177.45 L451.49,176.41 L451.95,175.32 L452.32,174.19 L452.63,173.04 L452.89,171.87 L453.12,170.70 L453.34,169.52 L453.55,168.34 L453.75,167.15 L453.95,165.97 L454.13,164.78 L454.32,163.60 L454.50,162.41 L454.69,161.23 L454.87,160.04 L455.07,158.86 L455.27,157.67 L455.48,156.49 L455.69,155.31 L455.92,154.13 L456.15,152.96 L456.37,151.78 L456.59,150.60 L456.80,149.42 L456.99,148.23 L457.16,147.05 L457.32,145.86 L457.46,144.66 L457.59,143.47 L457.70,142.28 L457.81,141.08 L457.92,139.89 L458.03,138.69 L458.14,137.50 L458.26,136.30 L458.39,135.11 L458.53,133.92 L458.68,132.73 L458.84,131.54 L459.03,130.36 L459.27,129.21 L459.58,128.10 L460.01,127.07 L460.53,126.12 L461.09,125.20 L461.61,124.24 L462.03,123.21 L462.34,122.10 L462.57,120.95 L462.76,119.77 L462.93,118.58 L463.12,117.40 L463.33,116.22 L463.58,115.05 L463.90,113.91 L464.30,112.83 L464.80,111.88 L465.40,111.17 L466.06,110.82 L466.75,110.91 L467.41,111.39 L468.06,112.09 L468.72,112.77 L469.38,113.20 L470.03,113.23 L470.59,112.81 L471.05,112.03 L471.42,111.02 L471.71,109.89 L471.97,108.73 L472.20,107.55 L472.42,106.38 L472.63,105.19 L472.83,104.01 L473.01,102.83 L473.18,101.64 L473.34,100.45 L473.50,99.26 L473.68,98.09 L473.92,96.95 L474.26,95.89 L474.74,94.95 L475.35,94.14 L476.03,93.39 L476.68,92.60 L477.21,91.69 L477.61,90.65 L477.91,89.53 L478.14,88.37 L478.33,87.19 L478.51,86.00 L478.68,84.81 L478.84,83.62 L478.99,82.43 L479.14,81.24 L479.28,80.05 L479.43,78.86 L479.58,77.67 L479.74,76.48 L479.91,75.30 L480.11,74.11 L480.32,72.93 L480.56,71.76 L480.81,70.58 L481.08,69.42 L481.36,68.25 L481.64,67.08 L481.90,65.91 L482.16,64.74 L482.39,63.56 L482.61,62.38 L482.82,61.20 L483.01,60.02 L483.19,58.83 L483.37,57.65 L483.55,56.46 L483.72,55.27 L483.90,54.08 L484.09,52.90 L484.28,51.72 L484.49,50.53 L484.71,49.35 L484.94,48.18 L485.18,47.00 L485.44,45.83 L485.73,44.68 L486.07,43.58 L486.50,42.58 L487.05,41.77 L487.76,41.22 L488.63,40.93 L489.60,40.83 L490.58,40.90 L491.48,41.17 L492.23,41.70 L492.81,42.49 L493.26,43.48 L493.61,44.58 L493.91,45.73 L494.18,46.90 L494.43,48.07 L494.67,49.24 L494.90,50.42 L495.12,51.60 L495.34,52.78 L495.55,53.96 L495.76,55.14 L495.96,56.33 L496.16,57.51 L496.36,58.69 L496.56,59.88 L496.76,61.06 L496.96,62.24 L497.16,63.43 L497.37,64.61 L497.58,65.79 L497.79,66.97 L498.01,68.15 L498.23,69.33 L498.45,70.51 L498.65,71.69 L498.85,72.88 L499.03,74.06 L499.20,75.25 L499.35,76.44 L499.49,77.63 L499.61,78.82 L499.73,80.02 L499.84,81.21 L499.94,82.41 L500.05,83.60 L500.15,84.80 L500.24,86.00 L500.33,87.19 L500.41,88.39 L500.51,89.58 L500.65,90.76 L500.86,91.89 L501.20,92.96 L501.69,93.93 L502.28,94.84 L502.89,95.74 L503.43,96.71 L503.84,97.76 L504.16,98.88 L504.42,100.04 L504.66,101.20 L504.93,102.37 L505.23,103.53 L505.58,104.67 L506.00,105.75 L506.53,106.75 L507.19,107.62 L507.98,108.35 L508.83,109.01 L509.63,109.70 L510.32,110.52 L510.85,111.48 L511.28,112.55 L511.64,113.67 L512.00,114.80 L512.41,115.92 L512.89,117.01 L513.43,118.07 L514.03,119.10 L514.67,120.11 L515.32,121.12 L515.98,122.12 L516.63,123.13 L517.26,124.15 L517.88,125.18 L518.47,126.22 L519.04,127.27 L519.59,128.34 L520.13,129.41 L520.66,130.49 L521.21,131.55 L521.78,132.61 L522.37,133.65 L522.99,134.68 L523.63,135.69 L524.28,136.70 L524.92,137.71 L525.54,138.73 L526.11,139.77 L526.60,140.85 L527.00,141.97 L527.34,143.11 L527.65,144.26 L527.98,145.40 L528.38,146.51 L528.89,147.54 L529.53,148.45 L530.33,149.20 L531.25,149.77 L532.25,150.20 L533.25,150.62 L534.19,151.15 L535.02,151.85 L535.73,152.72 L536.36,153.70 L536.93,154.75 L537.47,155.82 L537.99,156.89 L538.52,157.97 L539.08,159.03 L539.67,160.07 L540.31,161.08 L540.99,162.06 L541.69,163.03 L542.42,163.99 L543.14,164.95 L543.86,165.90 L544.58,166.87 L545.28,167.84 L545.99,168.81 L546.70,169.78 L547.42,170.73 L548.17,171.67 L548.94,172.58 L549.74,173.48 L550.54,174.36 L551.34,175.26 L552.13,176.16 L552.93,177.06 L553.73,177.93 L554.58,178.77 L555.46,179.55 L556.38,180.28 L557.29,181.00 L558.14,181.78 L558.91,182.64 L559.62,183.58 L560.29,184.56 L560.98,185.53 L561.70,186.48 L562.47,187.39 L563.30,188.25 L564.17,189.06 L565.09,189.83 L566.04,190.56 L567.01,191.26 L568.00,191.93 L568.99,192.61 L569.99,193.27 L570.98,193.95 L571.98,194.61 L572.98,195.27 L574.00,195.91 L575.03,196.51 L576.08,197.09 L577.15,197.64 L578.23,198.14 L579.33,198.61 L580.45,199.02 L581.60,199.37 L582.75,199.67 L583.92,199.94 L585.10,200.18 L586.27,200.41 L587.45,200.64 L588.63,200.86 L589.81,201.07 L591.00,201.26 L592.18,201.44 L593.37,201.60 L594.56,201.75 L595.75,201.89 L596.95,202.01 L598.14,202.13 L599.34,202.23 L600.53,202.31 L601.73,202.39 L602.93,202.47 L604.13,202.54 L605.32,202.61 L606.52,202.69 L607.72,202.78 L608.91,202.87 L610.11,202.98 L611.30,203.10 L612.50,203.22 L613.69,203.34 L614.88,203.46 L616.08,203.57 L617.27,203.67 L618.47,203.76 L619.67,203.83 L620.87,203.90 L622.06,203.95 L623.26,203.99 L624.46,204.03 L625.66,204.07 L626.86,204.09 L628.06,204.12 L629.26,204.14 L630.46,204.16 L631.66,204.18 L632.86,204.20 L634.06,204.22 L635.26,204.23 L636.46,204.25 L637.66,204.27 L638.86,204.28 L640.06,204.30 L641.26,204.32 L642.46,204.33 L643.66,204.35 L644.86,204.37 L646.06,204.38 L647.26,204.39 L648.46,204.41 L649.66,204.42 L650.86,204.43 L652.06,204.44 L653.26,204.45 L654.46,204.46 L655.66,204.47 L656.86,204.48 L658.06,204.49 L659.26,204.49 L660.46,204.50 L661.66,204.50 L662.86,204.51 L664.06,204.51 L665.26,204.51 L666.46,204.51 L667.66,204.51 L668.86,204.51 L670.06,204.51 L671.26,204.51 L672.46,204.51 L673.66,204.51 L674.85,204.51 L676.02,204.51 L677.11,204.50 L678.06,204.50 L678.79,204.50 L678.79,204.50" stroke="#f7a35c" stroke-width="1.35" stroke-dasharray="1.3 1.5"/>
</g>
<text x="390.3" y="19.8" font-size="12.6" text-anchor="start" font-family="'Liberation Serif','DejaVu Serif',serif" font-weight="bold" >(b)</text>
<rect x="616.4" y="7.4" width="58.5" height="45.6" fill="#fff" stroke="#555" stroke-width="0.6"/>
<line x1="617" x2="637.4" y1="13.8" y2="13.8" stroke="#ff0000" stroke-width="1.5"/>
<text x="640" y="16.7" font-size="8.7" text-anchor="start" font-family="'Liberation Serif','DejaVu Serif',serif" font-weight="bold" >0.00 GPa</text>
<line x1="617" x2="637.4" y1="24.9" y2="24.9" stroke="#00e600" stroke-width="1.5" stroke-dasharray="4 2.2"/>
<text x="640" y="27.799999999999997" font-size="8.7" text-anchor="start" font-family="'Liberation Serif','DejaVu Serif',serif" font-weight="bold" >0.80 GPa</text>
<line x1="617" x2="637.4" y1="36.0" y2="36.0" stroke="#0000ff" stroke-width="1.7" stroke-dasharray="7 2.4 1.8 2.4"/>
<text x="640" y="38.9" font-size="8.7" text-anchor="start" font-family="'Liberation Serif','DejaVu Serif',serif" font-weight="bold" >1.37 GPa</text>
<line x1="617" x2="637.4" y1="47.0" y2="47.0" stroke="#f7a35c" stroke-width="1.35" stroke-dasharray="1.3 1.5"/>
<text x="640" y="49.9" font-size="8.7" text-anchor="start" font-family="'Liberation Serif','DejaVu Serif',serif" font-weight="bold" >2.76 GPa</text>
</g>
<g id="panelC">
<clipPath id="cc"><rect x="32.7" y="263.7" width="291.3" height="214.7"/></clipPath>
<rect x="32.7" y="263.7" width="291.3" height="214.7" fill="none" stroke="#000" stroke-width="1.5"/>
<line x1="32.70" x2="32.70" y1="478.4" y2="474.5" stroke="#000" stroke-width="1.2"/>
<text x="32.70" y="488.8" font-size="9.8" text-anchor="middle" font-family="'Liberation Serif','DejaVu Serif',serif" font-weight="bold"  stroke="#000" stroke-width="0.2">0</text>
<line x1="69.11" x2="69.11" y1="478.4" y2="476.59999999999997" stroke="#000" stroke-width="1.2"/>
<line x1="105.53" x2="105.53" y1="478.4" y2="474.5" stroke="#000" stroke-width="1.2"/>
<text x="105.53" y="488.8" font-size="9.8" text-anchor="middle" font-family="'Liberation Serif','DejaVu Serif',serif" font-weight="bold"  stroke="#000" stroke-width="0.2">10</text>
<line x1="141.94" x2="141.94" y1="478.4" y2="476.59999999999997" stroke="#000" stroke-width="1.2"/>
<line x1="178.35" x2="178.35" y1="478.4" y2="474.5" stroke="#000" stroke-width="1.2"/>
<text x="178.35" y="488.8" font-size="9.8" text-anchor="middle" font-family="'Liberation Serif','DejaVu Serif',serif" font-weight="bold"  stroke="#000" stroke-width="0.2">20</text>
<line x1="214.76" x2="214.76" y1="478.4" y2="476.59999999999997" stroke="#000" stroke-width="1.2"/>
<line x1="251.18" x2="251.18" y1="478.4" y2="474.5" stroke="#000" stroke-width="1.2"/>
<text x="251.18" y="488.8" font-size="9.8" text-anchor="middle" font-family="'Liberation Serif','DejaVu Serif',serif" font-weight="bold"  stroke="#000" stroke-width="0.2">30</text>
<line x1="287.59" x2="287.59" y1="478.4" y2="476.59999999999997" stroke="#000" stroke-width="1.2"/>
<line x1="324.00" x2="324.00" y1="478.4" y2="474.5" stroke="#000" stroke-width="1.2"/>
<text x="324.00" y="488.8" font-size="9.8" text-anchor="middle" font-family="'Liberation Serif','DejaVu Serif',serif" font-weight="bold"  stroke="#000" stroke-width="0.2">40</text>
<line x1="32.7" x2="36.6" y1="463.55" y2="463.55" stroke="#000" stroke-width="1.2"/>
<text x="27.6" y="466.55" font-size="9.8" text-anchor="end" font-family="'Liberation Serif','DejaVu Serif',serif" font-weight="bold"  stroke="#000" stroke-width="0.2">0</text>
<line x1="32.7" x2="34.5" y1="438.57" y2="438.57" stroke="#000" stroke-width="1.2"/>
<line x1="32.7" x2="36.6" y1="413.59" y2="413.59" stroke="#000" stroke-width="1.2"/>
<text x="27.6" y="416.59" font-size="9.8" text-anchor="end" font-family="'Liberation Serif','DejaVu Serif',serif" font-weight="bold"  stroke="#000" stroke-width="0.2">1</text>
<line x1="32.7" x2="34.5" y1="388.61" y2="388.61" stroke="#000" stroke-width="1.2"/>
<line x1="32.7" x2="36.6" y1="363.63" y2="363.63" stroke="#000" stroke-width="1.2"/>
<text x="27.6" y="366.63" font-size="9.8" text-anchor="end" font-family="'Liberation Serif','DejaVu Serif',serif" font-weight="bold"  stroke="#000" stroke-width="0.2">2</text>
<line x1="32.7" x2="34.5" y1="338.65" y2="338.65" stroke="#000" stroke-width="1.2"/>
<line x1="32.7" x2="36.6" y1="313.67" y2="313.67" stroke="#000" stroke-width="1.2"/>
<text x="27.6" y="316.67" font-size="9.8" text-anchor="end" font-family="'Liberation Serif','DejaVu Serif',serif" font-weight="bold"  stroke="#000" stroke-width="0.2">3</text>
<line x1="32.7" x2="34.5" y1="288.69" y2="288.69" stroke="#000" stroke-width="1.2"/>
<line x1="32.7" x2="36.6" y1="263.71" y2="263.71" stroke="#000" stroke-width="1.2"/>
<text x="27.6" y="266.71" font-size="9.8" text-anchor="end" font-family="'Liberation Serif','DejaVu Serif',serif" font-weight="bold"  stroke="#000" stroke-width="0.2">4</text>
<text x="178.3" y="503.3" font-size="14" text-anchor="middle" font-family="'Liberation Serif','DejaVu Serif',serif" font-weight="bold" >Energy (eV)</text>
<text transform="translate(14.8,370.9) rotate(-90)" font-size="15" text-anchor="middle" font-family="'Liberation Serif','DejaVu Serif',serif" font-weight="bold"><tspan font-style="italic">Re</tspan><tspan font-style="italic" font-weight="normal" font-size="16">ε</tspan><tspan font-size="5.5" font-style="italic" dy="2.6">zz</tspan><tspan dy="-2.6">(ω)</tspan></text>
<g clip-path="url(#cc)" fill="none" stroke-linejoin="round" stroke-width="2.2">
<path d="M33.01,349.00 L34.41,348.84 L36.44,348.61 L38.66,348.32 L40.66,348.00 L42.34,347.64 L43.92,347.24 L45.46,346.80 L47.01,346.30 L48.57,345.76 L50.13,345.18 L51.68,344.54 L53.25,343.80 L54.89,342.95 L56.57,342.01 L58.18,341.01 L59.60,340.00 L60.77,338.97 L61.78,337.89 L62.66,336.82 L63.49,335.80 L64.23,334.78 L64.89,333.77 L65.48,332.84 L66.05,332.10 L66.58,331.54 L67.05,331.12 L67.51,330.86 L68.00,330.80 L68.53,330.96 L69.08,331.33 L69.63,331.83 L70.16,332.40 L70.65,333.19 L71.12,334.19 L71.60,335.06 L72.11,335.50 L72.67,335.39 L73.25,334.91 L73.86,334.17 L74.47,333.30 L75.11,332.25 L75.78,330.98 L76.43,329.62 L77.04,328.30 L77.56,327.00 L78.04,325.66 L78.50,324.39 L78.99,323.30 L79.51,322.41 L80.04,321.68 L80.59,321.07 L81.14,320.60 L81.72,320.30 L82.32,320.18 L82.92,320.11 L83.51,320.00 L84.06,319.90 L84.60,319.83 L85.13,319.67 L85.66,319.30 L86.21,318.69 L86.75,317.89 L87.29,316.93 L87.82,315.80 L88.32,314.46 L88.82,312.93 L89.30,311.28 L89.77,309.60 L90.20,307.82 L90.59,305.92 L91.02,304.09 L91.54,302.50 L92.21,301.33 L92.98,300.44 L93.76,299.56 L94.46,298.40 L95.04,296.90 L95.56,295.19 L96.05,293.34 L96.51,291.40 L96.95,289.33 L97.36,287.11 L97.75,284.84 L98.13,282.60 L98.49,280.21 L98.82,277.69 L99.16,275.42 L99.53,273.80 L99.94,273.05 L100.39,272.91 L100.83,273.07 L101.26,273.20 L101.68,273.13 L102.09,273.07 L102.48,273.22 L102.83,273.80 L103.11,274.94 L103.32,276.51 L103.55,278.30 L103.86,280.10 L104.29,281.85 L104.79,283.67 L105.31,285.60 L105.82,287.70 L106.32,290.06 L106.82,292.62 L107.32,295.23 L107.79,297.70 L108.23,300.06 L108.65,302.37 L109.05,304.55 L109.44,306.50 L109.79,308.32 L110.11,310.02 L110.44,311.38 L110.78,312.20 L111.16,312.39 L111.55,312.07 L111.95,311.35 L112.33,310.30 L112.68,308.72 L113.03,306.63 L113.36,304.50 L113.67,302.80 L113.95,301.52 L114.21,300.46 L114.46,299.76 L114.70,299.60 L114.94,300.06 L115.18,301.05 L115.41,302.41 L115.63,304.00 L115.84,305.99 L116.04,308.40 L116.24,310.81 L116.45,312.80 L116.69,314.39 L116.93,315.74 L117.19,316.73 L117.49,317.20 L117.85,316.94 L118.25,316.08 L118.66,315.01 L119.03,314.10 L119.35,313.27 L119.63,312.38 L119.90,311.73 L120.17,311.60 L120.46,312.18 L120.76,313.28 L121.04,314.64 L121.30,316.00 L121.51,317.43 L121.68,319.02 L121.87,320.55 L122.13,321.80 L122.52,322.51 L122.98,322.86 L123.46,323.31 L123.88,324.30 L124.23,325.97 L124.53,328.07 L124.82,330.49 L125.12,333.10 L125.45,335.90 L125.79,338.93 L126.13,342.20 L126.46,345.70 L126.78,349.45 L127.08,353.46 L127.39,357.66 L127.71,362.00 L128.04,366.54 L128.37,371.28 L128.72,376.10 L129.08,380.90 L129.46,385.64 L129.86,390.38 L130.26,395.16 L130.67,400.00 L131.10,405.05 L131.54,410.25 L131.97,415.32 L132.37,420.00 L132.72,424.09 L133.03,427.78 L133.33,431.36 L133.64,435.10 L133.98,439.18 L134.32,443.40 L134.67,447.55 L135.02,451.40 L135.37,455.26 L135.72,459.12 L136.06,462.29 L136.40,464.04 L136.72,463.87 L137.02,462.27 L137.34,460.02 L137.67,457.91 L138.03,455.78 L138.40,453.32 L138.79,451.16 L139.20,449.93 L139.66,450.01 L140.16,451.00 L140.66,452.32 L141.10,453.40 L141.47,454.28 L141.79,455.19 L142.10,455.88 L142.40,456.09 L142.70,455.44 L142.97,454.17 L143.27,452.94 L143.60,452.40 L143.99,452.78 L144.41,453.71 L144.86,454.94 L145.30,456.20 L145.72,457.66 L146.14,459.37 L146.59,460.92 L147.10,461.90 L147.71,462.02 L148.39,461.57 L149.08,460.96 L149.70,460.60 L150.23,460.54 L150.70,460.58 L151.15,460.78 L151.60,461.20 L152.04,461.98 L152.46,463.06 L152.90,464.15 L153.40,465.00 L154.00,465.52 L154.66,465.85 L155.34,466.08 L156.00,466.30 L156.63,466.45 L157.26,466.52 L157.88,466.63 L158.50,466.90 L159.14,467.48 L159.79,468.26 L160.42,468.99 L161.00,469.40 L161.52,469.39 L161.99,469.12 L162.44,468.69 L162.90,468.20 L163.38,467.60 L163.86,466.86 L164.33,466.14 L164.80,465.60 L165.24,465.22 L165.66,464.94 L166.10,464.84 L166.60,465.00 L167.18,465.59 L167.82,466.52 L168.50,467.49 L169.20,468.20 L169.94,468.56 L170.72,468.74 L171.51,468.80 L172.30,468.80 L173.09,468.76 L173.88,468.66 L174.66,468.47 L175.40,468.20 L176.07,467.79 L176.70,467.26 L177.33,466.72 L178.00,466.30 L178.74,466.02 L179.52,465.83 L180.31,465.70 L181.10,465.60 L181.87,465.61 L182.64,465.71 L183.42,465.76 L184.20,465.60 L185.00,465.16 L185.80,464.54 L186.60,463.83 L187.40,463.10 L188.18,462.35 L188.95,461.54 L189.72,460.74 L190.50,460.00 L191.30,459.29 L192.10,458.59 L192.90,458.00 L193.70,457.60 L194.46,457.46 L195.20,457.53 L195.96,457.68 L196.80,457.80 L197.76,457.91 L198.80,458.05 L199.84,458.17 L200.80,458.20 L201.63,458.12 L202.40,457.97 L203.13,457.78 L203.88,457.59 L204.66,457.46 L205.45,457.35 L206.23,457.17 L207.00,456.86 L207.76,456.37 L208.52,455.75 L209.27,455.05 L210.03,454.33 L210.73,453.56 L211.41,452.73 L212.15,451.91 L213.05,451.20 L214.16,450.66 L215.42,450.24 L216.74,449.81 L218.02,449.25 L219.25,448.47 L220.46,447.55 L221.68,446.62 L222.89,445.80 L224.11,445.12 L225.33,444.53 L226.54,443.98 L227.77,443.45 L229.01,442.95 L230.26,442.49 L231.50,442.02 L232.74,441.50 L233.94,440.89 L235.11,440.23 L236.31,439.56 L237.62,438.95 L239.06,438.38 L240.61,437.85 L242.20,437.35 L243.77,436.89 L245.31,436.50 L246.84,436.16 L248.38,435.83 L249.94,435.47 L251.53,435.08 L253.15,434.67 L254.75,434.25 L256.31,433.85 L257.80,433.46 L259.24,433.09 L260.69,432.71 L262.19,432.33 L263.65,431.95 L265.07,431.58 L266.69,431.18 L268.76,430.70 L271.44,430.12 L274.57,429.45 L277.88,428.77 L281.11,428.16 L284.21,427.62 L287.31,427.11 L290.42,426.64 L293.53,426.21 L296.64,425.83 L299.75,425.50 L302.86,425.18 L305.96,424.87 L309.20,424.53 L312.53,424.19 L315.65,423.87 L318.29,423.62 L320.38,423.45 L322.07,423.33 L323.37,423.26 L324.31,423.20" stroke="#551a8b"/>
<path d="M33.01,349.00 L34.41,348.84 L36.43,348.61 L38.65,348.32 L40.65,348.00 L42.33,347.64 L43.91,347.24 L45.44,346.80 L46.99,346.30 L48.55,345.76 L50.10,345.18 L51.66,344.54 L53.22,343.80 L54.86,342.95 L56.54,342.01 L58.14,341.01 L59.56,340.00 L60.73,338.97 L61.73,337.89 L62.61,336.82 L63.43,335.80 L64.17,334.78 L64.83,333.77 L65.42,332.84 L65.98,332.10 L66.51,331.54 L66.98,331.12 L67.44,330.86 L67.92,330.80 L68.45,330.96 L68.99,331.33 L69.54,331.83 L70.07,332.40 L70.56,333.19 L71.02,334.19 L71.50,335.06 L72.01,335.50 L72.56,335.39 L73.14,334.91 L73.75,334.17 L74.36,333.30 L74.99,332.25 L75.66,330.98 L76.31,329.62 L76.91,328.30 L77.43,327.00 L77.91,325.66 L78.37,324.39 L78.85,323.30 L79.37,322.41 L79.90,321.68 L80.44,321.07 L81.00,320.60 L81.57,320.30 L82.17,320.18 L82.77,320.11 L83.34,320.00 L83.89,319.90 L84.43,319.83 L84.96,319.67 L85.49,319.30 L86.03,318.69 L86.57,317.89 L87.11,316.93 L87.63,315.80 L88.14,314.46 L88.63,312.93 L89.11,311.28 L89.57,309.60 L90.00,307.82 L90.39,305.92 L90.82,304.09 L91.33,302.50 L91.99,301.33 L92.75,300.44 L93.52,299.56 L94.20,298.40 L94.78,296.90 L95.30,295.19 L95.77,293.34 L96.23,291.40 L96.66,289.33 L97.06,287.11 L97.45,284.84 L97.82,282.60 L98.18,280.21 L98.51,277.69 L98.84,275.42 L99.21,273.80 L99.61,273.05 L100.05,272.91 L100.49,273.07 L100.91,273.20 L101.32,273.13 L101.73,273.07 L102.12,273.22 L102.47,273.80 L102.74,274.94 L102.95,276.51 L103.18,278.30 L103.49,280.10 L103.91,281.85 L104.41,283.67 L104.93,285.60 L105.44,287.70 L105.93,290.06 L106.43,292.62 L106.92,295.23 L107.39,297.70 L107.83,300.06 L108.25,302.37 L108.65,304.55 L109.03,306.50 L109.38,308.32 L109.70,310.02 L110.02,311.38 L110.36,312.20 L110.74,312.39 L111.13,312.07 L111.53,311.35 L111.90,310.30 L112.26,308.72 L112.60,306.63 L112.93,304.50 L113.23,302.80 L113.51,301.52 L113.77,300.46 L114.02,299.76 L114.26,299.60 L114.50,300.06 L114.73,301.05 L114.96,302.41 L115.18,304.00 L115.39,305.99 L115.59,308.40 L115.79,310.81 L116.00,312.80 L116.23,314.39 L116.47,315.74 L116.73,316.73 L117.03,317.20 L117.39,316.94 L117.79,316.08 L118.20,315.01 L118.57,314.10 L118.88,313.27 L119.16,312.38 L119.42,311.73 L119.70,311.60 L119.98,312.18 L120.28,313.28 L120.56,314.64 L120.82,316.00 L121.03,317.43 L121.20,319.02 L121.38,320.55 L121.64,321.80 L122.03,322.51 L122.49,322.86 L122.97,323.31 L123.39,324.30 L123.73,325.97 L124.03,328.07 L124.32,330.49 L124.62,333.10 L124.95,335.90 L125.29,338.93 L125.62,342.20 L125.95,345.70 L126.26,349.45 L126.57,353.46 L126.87,357.66 L127.18,362.00 L127.51,366.54 L127.84,371.28 L128.19,376.10 L128.55,380.90 L128.92,385.64 L129.31,390.38 L129.71,395.16 L130.12,400.00 L130.54,405.05 L130.98,410.25 L131.40,415.32 L131.80,420.00 L132.14,424.09 L132.44,427.78 L132.74,431.36 L133.05,435.10 L133.39,439.18 L133.73,443.40 L134.07,447.55 L134.42,451.40 L134.76,455.26 L135.10,459.12 L135.45,462.28 L135.78,464.03 L136.09,463.86 L136.40,462.24 L136.71,459.98 L137.04,457.87 L137.39,455.73 L137.76,453.26 L138.15,451.09 L138.56,449.84 L139.02,449.91 L139.52,450.88 L140.02,452.19 L140.46,453.26 L140.83,454.13 L141.15,455.03 L141.46,455.71 L141.76,455.91 L142.06,455.25 L142.34,453.98 L142.63,452.75 L142.96,452.20 L143.35,452.58 L143.77,453.51 L144.22,454.74 L144.66,456.00 L145.08,457.46 L145.50,459.17 L145.95,460.72 L146.46,461.70 L147.07,461.82 L147.75,461.37 L148.44,460.76 L149.06,460.40 L149.59,460.34 L150.06,460.38 L150.51,460.58 L150.96,461.00 L151.40,461.78 L151.82,462.86 L152.26,463.95 L152.76,464.80 L153.36,465.32 L154.02,465.65 L154.70,465.88 L155.36,466.10 L155.99,466.25 L156.62,466.33 L157.24,466.43 L157.86,466.70 L158.50,467.28 L159.15,468.06 L159.78,468.79 L160.36,469.20 L160.88,469.19 L161.35,468.92 L161.80,468.49 L162.26,468.00 L162.74,467.40 L163.22,466.66 L163.69,465.94 L164.16,465.40 L164.60,465.02 L165.02,464.74 L165.46,464.64 L165.96,464.80 L166.54,465.39 L167.18,466.33 L167.86,467.29 L168.56,468.00 L169.30,468.36 L170.08,468.54 L170.87,468.60 L171.66,468.60 L172.45,468.56 L173.24,468.46 L174.02,468.27 L174.76,468.00 L175.43,467.59 L176.06,467.06 L176.69,466.52 L177.36,466.10 L178.10,465.82 L178.88,465.63 L179.67,465.50 L180.46,465.40 L181.23,465.41 L182.00,465.51 L182.78,465.56 L183.56,465.40 L184.36,464.96 L185.16,464.34 L185.96,463.63 L186.76,462.90 L187.54,462.15 L188.31,461.34 L189.08,460.54 L189.86,459.80 L190.66,459.09 L191.46,458.39 L192.26,457.80 L193.06,457.40 L193.82,457.26 L194.56,457.33 L195.32,457.48 L196.16,457.60 L197.12,457.71 L198.16,457.85 L199.20,457.97 L200.16,458.00 L200.99,457.92 L201.76,457.77 L202.49,457.58 L203.25,457.39 L204.03,457.26 L204.82,457.15 L205.60,456.98 L206.38,456.67 L207.15,456.18 L207.91,455.56 L208.66,454.86 L209.42,454.14 L210.13,453.38 L210.82,452.55 L211.56,451.73 L212.46,451.02 L213.57,450.49 L214.84,450.07 L216.17,449.64 L217.46,449.08 L218.69,448.30 L219.91,447.38 L221.13,446.46 L222.36,445.64 L223.58,444.97 L224.80,444.37 L226.02,443.83 L227.26,443.30 L228.50,442.80 L229.76,442.34 L231.01,441.88 L232.25,441.36 L233.46,440.75 L234.63,440.09 L235.84,439.43 L237.15,438.82 L238.61,438.26 L240.16,437.73 L241.76,437.23 L243.33,436.78 L244.88,436.38 L246.42,436.04 L247.97,435.71 L249.53,435.36 L251.13,434.96 L252.75,434.55 L254.36,434.14 L255.93,433.74 L257.42,433.35 L258.87,432.98 L260.32,432.61 L261.83,432.22 L263.30,431.85 L264.72,431.48 L266.35,431.07 L268.43,430.60 L271.12,430.02 L274.26,429.35 L277.58,428.68 L280.82,428.07 L283.94,427.53 L287.05,427.02 L290.17,426.56 L293.29,426.13 L296.40,425.75 L299.52,425.42 L302.64,425.11 L305.75,424.79 L308.99,424.46 L312.33,424.12 L315.47,423.81 L318.11,423.56 L320.21,423.39 L321.90,423.27 L323.21,423.20 L324.15,423.14" stroke="#0a0aa5"/>
<path d="M33.00,349.00 L34.41,348.84 L36.43,348.61 L38.64,348.32 L40.64,348.00 L42.31,347.64 L43.89,347.24 L45.42,346.80 L46.96,346.30 L48.53,345.76 L50.08,345.18 L51.63,344.54 L53.19,343.80 L54.82,342.95 L56.50,342.01 L58.11,341.01 L59.52,340.00 L60.69,338.97 L61.68,337.89 L62.56,336.82 L63.37,335.80 L64.11,334.78 L64.76,333.77 L65.35,332.84 L65.91,332.10 L66.43,331.54 L66.90,331.12 L67.36,330.86 L67.84,330.80 L68.37,330.96 L68.91,331.33 L69.45,331.83 L69.98,332.40 L70.46,333.19 L70.93,334.19 L71.40,335.06 L71.91,335.50 L72.46,335.39 L73.04,334.91 L73.63,334.17 L74.24,333.30 L74.88,332.25 L75.54,330.98 L76.19,329.62 L76.78,328.30 L77.30,327.00 L77.77,325.66 L78.23,324.39 L78.71,323.30 L79.23,322.41 L79.75,321.68 L80.29,321.07 L80.85,320.60 L81.42,320.30 L82.01,320.18 L82.61,320.11 L83.18,320.00 L83.73,319.90 L84.26,319.83 L84.79,319.67 L85.32,319.30 L85.85,318.69 L86.40,317.89 L86.93,316.93 L87.45,315.80 L87.95,314.46 L88.44,312.93 L88.92,311.28 L89.38,309.60 L89.80,307.82 L90.20,305.92 L90.62,304.09 L91.12,302.50 L91.77,301.33 L92.52,300.44 L93.28,299.56 L93.95,298.40 L94.52,296.90 L95.03,295.19 L95.50,293.34 L95.94,291.40 L96.37,289.33 L96.77,287.11 L97.15,284.84 L97.52,282.60 L97.86,280.21 L98.19,277.69 L98.52,275.42 L98.88,273.80 L99.28,273.05 L99.71,272.91 L100.14,273.07 L100.56,273.20 L100.96,273.13 L101.37,273.07 L101.75,273.22 L102.10,273.80 L102.37,274.94 L102.58,276.51 L102.81,278.30 L103.12,280.10 L103.54,281.85 L104.03,283.67 L104.55,285.60 L105.05,287.70 L105.55,290.06 L106.04,292.62 L106.53,295.23 L106.99,297.70 L107.43,300.06 L107.84,302.37 L108.24,304.55 L108.62,306.50 L108.97,308.32 L109.29,310.02 L109.61,311.38 L109.95,312.20 L110.32,312.39 L110.71,312.07 L111.10,311.35 L111.48,310.30 L111.83,308.72 L112.17,306.63 L112.50,304.50 L112.80,302.80 L113.08,301.52 L113.34,300.46 L113.58,299.76 L113.82,299.60 L114.06,300.06 L114.29,301.05 L114.52,302.41 L114.74,304.00 L114.94,305.99 L115.14,308.40 L115.34,310.81 L115.55,312.80 L115.78,314.39 L116.02,315.74 L116.28,316.73 L116.57,317.20 L116.93,316.94 L117.33,316.08 L117.74,315.01 L118.10,314.10 L118.41,313.27 L118.69,312.38 L118.95,311.73 L119.22,311.60 L119.51,312.18 L119.80,313.28 L120.08,314.64 L120.34,316.00 L120.55,317.43 L120.71,319.02 L120.90,320.55 L121.16,321.80 L121.54,322.51 L122.00,322.86 L122.47,323.31 L122.89,324.30 L123.23,325.97 L123.53,328.07 L123.81,330.49 L124.11,333.10 L124.44,335.90 L124.78,338.93 L125.11,342.20 L125.44,345.70 L125.75,349.45 L126.05,353.46 L126.35,357.66 L126.66,362.00 L126.99,366.54 L127.32,371.28 L127.66,376.10 L128.01,380.90 L128.38,385.64 L128.77,390.38 L129.16,395.16 L129.56,400.00 L129.98,405.05 L130.41,410.25 L130.83,415.32 L131.22,420.00 L131.56,424.09 L131.86,427.78 L132.16,431.36 L132.47,435.10 L132.79,439.18 L133.13,443.40 L133.47,447.56 L133.81,451.40 L134.15,455.26 L134.49,459.12 L134.83,462.28 L135.16,464.03 L135.47,463.84 L135.77,462.22 L136.07,459.95 L136.40,457.83 L136.75,455.67 L137.12,453.20 L137.51,451.01 L137.92,449.76 L138.38,449.81 L138.88,450.77 L139.38,452.06 L139.82,453.12 L140.19,453.97 L140.51,454.87 L140.82,455.54 L141.12,455.73 L141.42,455.07 L141.69,453.79 L141.99,452.55 L142.32,452.00 L142.71,452.38 L143.13,453.31 L143.58,454.54 L144.02,455.80 L144.44,457.26 L144.86,458.97 L145.31,460.52 L145.82,461.50 L146.43,461.62 L147.11,461.17 L147.80,460.56 L148.42,460.20 L148.95,460.14 L149.42,460.18 L149.87,460.38 L150.32,460.80 L150.76,461.58 L151.18,462.66 L151.62,463.75 L152.12,464.60 L152.72,465.12 L153.38,465.45 L154.06,465.68 L154.72,465.90 L155.35,466.05 L155.98,466.12 L156.60,466.23 L157.22,466.50 L157.86,467.08 L158.51,467.86 L159.14,468.59 L159.72,469.00 L160.24,468.99 L160.71,468.72 L161.16,468.29 L161.62,467.80 L162.10,467.20 L162.58,466.46 L163.05,465.74 L163.52,465.20 L163.96,464.82 L164.38,464.54 L164.82,464.44 L165.32,464.60 L165.90,465.19 L166.54,466.13 L167.22,467.09 L167.92,467.80 L168.66,468.16 L169.44,468.34 L170.23,468.40 L171.02,468.40 L171.81,468.36 L172.60,468.26 L173.38,468.07 L174.12,467.80 L174.79,467.39 L175.42,466.86 L176.05,466.32 L176.72,465.90 L177.46,465.62 L178.24,465.43 L179.03,465.30 L179.82,465.20 L180.59,465.21 L181.36,465.31 L182.14,465.36 L182.92,465.20 L183.72,464.76 L184.52,464.14 L185.32,463.43 L186.12,462.70 L186.90,461.95 L187.67,461.14 L188.44,460.34 L189.22,459.60 L190.02,458.89 L190.82,458.19 L191.62,457.60 L192.42,457.20 L193.18,457.06 L193.92,457.13 L194.68,457.28 L195.52,457.40 L196.48,457.51 L197.52,457.65 L198.56,457.77 L199.52,457.80 L200.35,457.72 L201.12,457.57 L201.85,457.38 L202.61,457.20 L203.40,457.07 L204.19,456.96 L204.98,456.79 L205.76,456.48 L206.53,455.99 L207.29,455.37 L208.05,454.67 L208.81,453.96 L209.53,453.19 L210.22,452.36 L210.97,451.55 L211.87,450.84 L212.99,450.31 L214.26,449.89 L215.60,449.47 L216.89,448.91 L218.13,448.13 L219.36,447.22 L220.59,446.29 L221.82,445.48 L223.05,444.81 L224.27,444.22 L225.50,443.68 L226.74,443.15 L227.99,442.65 L229.25,442.20 L230.51,441.73 L231.77,441.22 L232.97,440.62 L234.15,439.96 L235.37,439.30 L236.69,438.69 L238.15,438.13 L239.71,437.60 L241.32,437.11 L242.90,436.66 L244.45,436.26 L246.00,435.92 L247.55,435.60 L249.13,435.24 L250.73,434.85 L252.35,434.44 L253.97,434.03 L255.55,433.63 L257.05,433.25 L258.50,432.87 L259.96,432.50 L261.48,432.12 L262.94,431.74 L264.38,431.37 L266.01,430.97 L268.09,430.50 L270.80,429.92 L273.95,429.26 L277.29,428.59 L280.54,427.97 L283.66,427.44 L286.79,426.94 L289.91,426.47 L293.04,426.05 L296.17,425.67 L299.29,425.34 L302.42,425.03 L305.54,424.72 L308.79,424.39 L312.14,424.05 L315.28,423.74 L317.93,423.49 L320.03,423.32 L321.73,423.21 L323.05,423.14 L323.98,423.08" stroke="#1464b4"/>
<path d="M33.00,349.00 L34.40,348.84 L36.42,348.61 L38.63,348.32 L40.62,348.00 L42.30,347.64 L43.87,347.24 L45.40,346.80 L46.94,346.30 L48.50,345.76 L50.05,345.18 L51.60,344.54 L53.16,343.80 L54.79,342.95 L56.47,342.01 L58.07,341.01 L59.48,340.00 L60.64,338.97 L61.63,337.89 L62.51,336.82 L63.31,335.80 L64.05,334.78 L64.70,333.77 L65.28,332.84 L65.84,332.10 L66.36,331.54 L66.83,331.12 L67.28,330.86 L67.76,330.80 L68.28,330.96 L68.82,331.33 L69.36,331.83 L69.88,332.40 L70.37,333.19 L70.83,334.19 L71.30,335.06 L71.80,335.50 L72.35,335.39 L72.93,334.91 L73.52,334.17 L74.13,333.30 L74.76,332.25 L75.42,330.98 L76.06,329.62 L76.65,328.30 L77.17,327.00 L77.64,325.66 L78.10,324.39 L78.58,323.30 L79.09,322.41 L79.61,321.68 L80.15,321.07 L80.70,320.60 L81.27,320.30 L81.86,320.18 L82.45,320.11 L83.02,320.00 L83.57,319.90 L84.10,319.83 L84.62,319.67 L85.14,319.30 L85.68,318.69 L86.22,317.89 L86.75,316.93 L87.27,315.80 L87.77,314.46 L88.25,312.93 L88.73,311.28 L89.19,309.60 L89.61,307.82 L90.00,305.92 L90.41,304.09 L90.92,302.50 L91.56,301.33 L92.29,300.44 L93.04,299.56 L93.70,298.40 L94.26,296.90 L94.76,295.19 L95.22,293.34 L95.66,291.40 L96.08,289.33 L96.48,287.11 L96.85,284.84 L97.21,282.60 L97.55,280.21 L97.88,277.69 L98.20,275.42 L98.55,273.80 L98.95,273.05 L99.37,272.91 L99.79,273.07 L100.20,273.20 L100.61,273.13 L101.01,273.07 L101.39,273.22 L101.73,273.80 L102.00,274.94 L102.21,276.51 L102.44,278.30 L102.75,280.10 L103.16,281.85 L103.65,283.67 L104.17,285.60 L104.67,287.70 L105.16,290.06 L105.65,292.62 L106.13,295.23 L106.59,297.70 L107.03,300.06 L107.44,302.37 L107.84,304.55 L108.21,306.50 L108.56,308.32 L108.88,310.02 L109.20,311.38 L109.53,312.20 L109.90,312.39 L110.29,312.07 L110.68,311.35 L111.05,310.30 L111.40,308.72 L111.74,306.63 L112.06,304.50 L112.37,302.80 L112.64,301.52 L112.90,300.46 L113.14,299.76 L113.38,299.60 L113.62,300.06 L113.85,301.05 L114.07,302.41 L114.29,304.00 L114.50,305.99 L114.69,308.40 L114.89,310.81 L115.10,312.80 L115.33,314.39 L115.56,315.74 L115.82,316.73 L116.11,317.20 L116.47,316.94 L116.87,316.08 L117.27,315.01 L117.63,314.10 L117.94,313.27 L118.22,312.38 L118.48,311.73 L118.75,311.60 L119.03,312.18 L119.32,313.28 L119.60,314.64 L119.86,316.00 L120.06,317.43 L120.23,319.02 L120.41,320.55 L120.67,321.80 L121.05,322.51 L121.51,322.86 L121.98,323.31 L122.39,324.30 L122.73,325.97 L123.03,328.07 L123.31,330.49 L123.61,333.10 L123.93,335.90 L124.27,338.93 L124.60,342.20 L124.93,345.70 L125.23,349.45 L125.53,353.46 L125.83,357.66 L126.14,362.00 L126.46,366.54 L126.79,371.28 L127.12,376.10 L127.47,380.90 L127.84,385.64 L128.22,390.38 L128.61,395.16 L129.01,400.00 L129.42,405.05 L129.85,410.25 L130.26,415.32 L130.65,420.00 L130.98,424.09 L131.28,427.78 L131.57,431.36 L131.88,435.10 L132.20,439.18 L132.54,443.41 L132.87,447.56 L133.21,451.40 L133.54,455.25 L133.88,459.12 L134.21,462.27 L134.54,464.02 L134.85,463.83 L135.14,462.20 L135.44,459.92 L135.77,457.79 L136.12,455.62 L136.48,453.13 L136.87,450.94 L137.28,449.67 L137.74,449.71 L138.24,450.66 L138.74,451.94 L139.18,452.98 L139.55,453.82 L139.87,454.71 L140.18,455.37 L140.48,455.55 L140.78,454.88 L141.05,453.60 L141.35,452.36 L141.68,451.80 L142.07,452.17 L142.49,453.11 L142.94,454.34 L143.38,455.60 L143.80,457.06 L144.22,458.77 L144.67,460.32 L145.18,461.30 L145.79,461.42 L146.47,460.97 L147.16,460.36 L147.78,460.00 L148.31,459.94 L148.78,459.98 L149.23,460.18 L149.68,460.60 L150.12,461.38 L150.54,462.46 L150.98,463.55 L151.48,464.40 L152.08,464.92 L152.74,465.25 L153.42,465.48 L154.08,465.70 L154.71,465.85 L155.34,465.92 L155.96,466.03 L156.58,466.30 L157.22,466.88 L157.87,467.66 L158.50,468.39 L159.08,468.80 L159.60,468.79 L160.07,468.52 L160.52,468.09 L160.98,467.60 L161.46,467.00 L161.94,466.26 L162.41,465.54 L162.88,465.00 L163.32,464.62 L163.74,464.34 L164.18,464.24 L164.68,464.40 L165.26,464.99 L165.90,465.92 L166.58,466.89 L167.28,467.60 L168.02,467.96 L168.80,468.14 L169.59,468.20 L170.38,468.20 L171.17,468.16 L171.96,468.06 L172.74,467.87 L173.48,467.60 L174.15,467.19 L174.78,466.66 L175.41,466.12 L176.08,465.70 L176.82,465.42 L177.60,465.23 L178.39,465.10 L179.18,465.00 L179.95,465.01 L180.72,465.11 L181.50,465.16 L182.28,465.00 L183.08,464.56 L183.88,463.94 L184.68,463.23 L185.48,462.50 L186.26,461.75 L187.03,460.94 L187.80,460.14 L188.58,459.40 L189.38,458.69 L190.18,457.99 L190.98,457.40 L191.78,457.00 L192.54,456.86 L193.28,456.93 L194.04,457.08 L194.88,457.20 L195.84,457.31 L196.88,457.45 L197.92,457.57 L198.88,457.60 L199.72,457.52 L200.48,457.37 L201.22,457.18 L201.97,457.00 L202.76,456.87 L203.56,456.76 L204.35,456.59 L205.14,456.28 L205.92,455.80 L206.68,455.18 L207.45,454.48 L208.21,453.77 L208.93,453.01 L209.62,452.18 L210.37,451.37 L211.28,450.66 L212.40,450.13 L213.69,449.72 L215.03,449.30 L216.33,448.74 L217.57,447.96 L218.81,447.05 L220.04,446.13 L221.28,445.32 L222.51,444.65 L223.75,444.07 L224.98,443.53 L226.23,443.00 L227.49,442.51 L228.75,442.05 L230.02,441.59 L231.28,441.08 L232.49,440.48 L233.68,439.83 L234.90,439.17 L236.23,438.56 L237.70,438.00 L239.27,437.48 L240.88,436.99 L242.47,436.54 L244.02,436.15 L245.58,435.81 L247.14,435.48 L248.72,435.13 L250.33,434.74 L251.96,434.33 L253.58,433.92 L255.16,433.52 L256.67,433.14 L258.13,432.77 L259.59,432.39 L261.12,432.01 L262.59,431.64 L264.03,431.27 L265.67,430.87 L267.76,430.40 L270.48,429.82 L273.65,429.16 L277.00,428.49 L280.26,427.88 L283.39,427.35 L286.53,426.85 L289.66,426.39 L292.79,425.97 L295.93,425.59 L299.06,425.26 L302.20,424.96 L305.32,424.65 L308.59,424.32 L311.94,423.98 L315.10,423.67 L317.76,423.43 L319.86,423.26 L321.57,423.15 L322.88,423.08 L323.82,423.02" stroke="#7ddc1f"/>
<path d="M33.00,349.00 L34.40,348.84 L36.41,348.61 L38.62,348.32 L40.61,348.00 L42.28,347.64 L43.85,347.24 L45.38,346.80 L46.92,346.30 L48.48,345.76 L50.03,345.18 L51.57,344.54 L53.13,343.80 L54.76,342.95 L56.43,342.01 L58.03,341.01 L59.44,340.00 L60.60,338.97 L61.59,337.89 L62.45,336.82 L63.26,335.80 L63.99,334.78 L64.63,333.77 L65.22,332.84 L65.77,332.10 L66.29,331.54 L66.75,331.12 L67.20,330.86 L67.68,330.80 L68.20,330.96 L68.74,331.33 L69.27,331.83 L69.79,332.40 L70.27,333.19 L70.73,334.19 L71.20,335.06 L71.70,335.50 L72.25,335.39 L72.82,334.91 L73.41,334.17 L74.01,333.30 L74.64,332.25 L75.30,330.98 L75.94,329.62 L76.53,328.30 L77.04,327.00 L77.51,325.66 L77.96,324.39 L78.44,323.30 L78.95,322.41 L79.47,321.68 L80.00,321.07 L80.55,320.60 L81.12,320.30 L81.70,320.18 L82.29,320.11 L82.86,320.00 L83.40,319.90 L83.93,319.83 L84.45,319.67 L84.97,319.30 L85.50,318.69 L86.04,317.89 L86.57,316.93 L87.08,315.80 L87.58,314.46 L88.06,312.93 L88.53,311.28 L88.99,309.60 L89.41,307.82 L89.80,305.92 L90.21,304.09 L90.71,302.50 L91.34,301.33 L92.07,300.44 L92.80,299.56 L93.45,298.40 L94.00,296.90 L94.49,295.19 L94.95,293.34 L95.38,291.40 L95.80,289.33 L96.18,287.11 L96.55,284.84 L96.91,282.60 L97.24,280.21 L97.56,277.69 L97.88,275.42 L98.23,273.80 L98.61,273.05 L99.03,272.91 L99.45,273.07 L99.85,273.20 L100.25,273.13 L100.65,273.07 L101.03,273.22 L101.37,273.80 L101.63,274.94 L101.84,276.51 L102.07,278.30 L102.37,280.10 L102.79,281.85 L103.27,283.67 L103.79,285.60 L104.28,287.70 L104.77,290.06 L105.26,292.62 L105.74,295.23 L106.20,297.70 L106.63,300.06 L107.04,302.37 L107.43,304.55 L107.81,306.50 L108.15,308.32 L108.47,310.02 L108.78,311.38 L109.12,312.20 L109.48,312.39 L109.87,312.07 L110.26,311.35 L110.63,310.30 L110.97,308.72 L111.31,306.63 L111.63,304.50 L111.93,302.80 L112.21,301.52 L112.46,300.46 L112.70,299.76 L112.94,299.60 L113.18,300.06 L113.41,301.05 L113.63,302.41 L113.85,304.00 L114.05,305.99 L114.24,308.40 L114.44,310.81 L114.65,312.80 L114.88,314.39 L115.11,315.74 L115.37,316.73 L115.66,317.20 L116.01,316.94 L116.41,316.08 L116.81,315.01 L117.17,314.10 L117.47,313.27 L117.75,312.38 L118.01,311.73 L118.27,311.60 L118.56,312.18 L118.85,313.28 L119.13,314.64 L119.38,316.00 L119.58,317.43 L119.75,319.02 L119.93,320.55 L120.19,321.80 L120.56,322.51 L121.02,322.86 L121.48,323.31 L121.90,324.30 L122.23,325.97 L122.53,328.07 L122.81,330.49 L123.10,333.10 L123.43,335.90 L123.76,338.93 L124.09,342.20 L124.41,345.70 L124.72,349.45 L125.02,353.46 L125.31,357.66 L125.62,362.00 L125.94,366.54 L126.26,371.28 L126.59,376.10 L126.94,380.90 L127.30,385.64 L127.68,390.38 L128.06,395.16 L128.45,400.00 L128.86,405.05 L129.28,410.25 L129.70,415.32 L130.07,420.00 L130.40,424.09 L130.70,427.78 L130.99,431.36 L131.29,435.10 L131.61,439.18 L131.94,443.41 L132.27,447.56 L132.60,451.40 L132.94,455.25 L133.27,459.11 L133.60,462.27 L133.92,464.01 L134.22,463.81 L134.51,462.17 L134.81,459.88 L135.13,457.74 L135.48,455.57 L135.84,453.07 L136.23,450.87 L136.64,449.59 L137.10,449.61 L137.60,450.54 L138.10,451.81 L138.54,452.84 L138.91,453.67 L139.23,454.55 L139.54,455.20 L139.84,455.38 L140.14,454.70 L140.41,453.41 L140.71,452.16 L141.04,451.60 L141.43,451.97 L141.85,452.91 L142.30,454.14 L142.74,455.40 L143.16,456.86 L143.58,458.57 L144.03,460.12 L144.54,461.10 L145.15,461.22 L145.83,460.77 L146.52,460.16 L147.14,459.80 L147.67,459.74 L148.14,459.78 L148.59,459.98 L149.04,460.40 L149.48,461.18 L149.90,462.26 L150.34,463.35 L150.84,464.20 L151.44,464.72 L152.10,465.05 L152.78,465.28 L153.44,465.50 L154.07,465.65 L154.70,465.73 L155.32,465.83 L155.94,466.10 L156.58,466.68 L157.23,467.46 L157.86,468.19 L158.44,468.60 L158.96,468.59 L159.43,468.32 L159.88,467.89 L160.34,467.40 L160.82,466.80 L161.30,466.06 L161.77,465.34 L162.24,464.80 L162.68,464.42 L163.10,464.14 L163.54,464.04 L164.04,464.20 L164.62,464.79 L165.26,465.72 L165.94,466.69 L166.64,467.40 L167.38,467.76 L168.16,467.94 L168.95,468.00 L169.74,468.00 L170.53,467.96 L171.32,467.86 L172.10,467.67 L172.84,467.40 L173.51,466.99 L174.14,466.46 L174.77,465.92 L175.44,465.50 L176.18,465.22 L176.96,465.03 L177.75,464.90 L178.54,464.80 L179.31,464.81 L180.08,464.91 L180.86,464.96 L181.64,464.80 L182.44,464.36 L183.24,463.74 L184.04,463.03 L184.84,462.30 L185.62,461.55 L186.39,460.74 L187.16,459.94 L187.94,459.20 L188.74,458.49 L189.54,457.79 L190.34,457.20 L191.14,456.80 L191.90,456.66 L192.64,456.73 L193.40,456.88 L194.24,457.00 L195.20,457.11 L196.24,457.25 L197.28,457.37 L198.24,457.40 L199.08,457.32 L199.84,457.17 L200.58,456.98 L201.34,456.80 L202.13,456.67 L202.93,456.56 L203.73,456.40 L204.52,456.09 L205.30,455.61 L206.07,454.99 L206.84,454.30 L207.60,453.59 L208.33,452.82 L209.02,452.00 L209.78,451.19 L210.69,450.48 L211.82,449.95 L213.11,449.54 L214.46,449.12 L215.76,448.57 L217.01,447.80 L218.26,446.89 L219.50,445.97 L220.74,445.16 L221.98,444.50 L223.22,443.91 L224.46,443.37 L225.71,442.85 L226.98,442.36 L228.25,441.91 L229.52,441.45 L230.79,440.94 L232.01,440.34 L233.20,439.69 L234.43,439.04 L235.76,438.43 L237.24,437.88 L238.82,437.36 L240.44,436.87 L242.03,436.42 L243.60,436.03 L245.16,435.69 L246.73,435.37 L248.31,435.01 L249.92,434.62 L251.56,434.22 L253.19,433.81 L254.78,433.41 L256.30,433.03 L257.76,432.66 L259.23,432.29 L260.76,431.91 L262.24,431.53 L263.68,431.17 L265.33,430.77 L267.43,430.30 L270.16,429.72 L273.34,429.07 L276.70,428.40 L279.98,427.79 L283.12,427.26 L286.26,426.76 L289.40,426.30 L292.55,425.88 L295.69,425.51 L298.84,425.18 L301.98,424.88 L305.11,424.57 L308.39,424.25 L311.75,423.91 L314.91,423.61 L317.58,423.36 L319.69,423.20 L321.40,423.09 L322.72,423.01 L323.66,422.96" stroke="#ff9900"/>
<path d="M33.00,349.00 L34.40,348.84 L36.41,348.61 L38.61,348.32 L40.60,348.00 L42.27,347.64 L43.84,347.24 L45.36,346.80 L46.90,346.30 L48.45,345.76 L50.00,345.18 L51.55,344.54 L53.10,343.80 L54.73,342.95 L56.40,342.01 L58.00,341.01 L59.40,340.00 L60.56,338.97 L61.54,337.89 L62.40,336.82 L63.20,335.80 L63.93,334.78 L64.57,333.77 L65.15,332.84 L65.70,332.10 L66.21,331.54 L66.67,331.12 L67.12,330.86 L67.60,330.80 L68.12,330.96 L68.65,331.33 L69.18,331.83 L69.70,332.40 L70.18,333.19 L70.64,334.19 L71.10,335.06 L71.60,335.50 L72.14,335.39 L72.71,334.91 L73.30,334.17 L73.90,333.30 L74.53,332.25 L75.18,330.98 L75.81,329.62 L76.40,328.30 L76.91,327.00 L77.38,325.66 L77.83,324.39 L78.30,323.30 L78.81,322.41 L79.33,321.68 L79.86,321.07 L80.40,320.60 L80.97,320.30 L81.55,320.18 L82.13,320.11 L82.70,320.00 L83.24,319.90 L83.76,319.83 L84.28,319.67 L84.80,319.30 L85.33,318.69 L85.86,317.89 L86.39,316.93 L86.90,315.80 L87.39,314.46 L87.88,312.93 L88.34,311.28 L88.80,309.60 L89.22,307.82 L89.60,305.92 L90.01,304.09 L90.50,302.50 L91.12,301.33 L91.84,300.44 L92.56,299.56 L93.20,298.40 L93.74,296.90 L94.22,295.19 L94.67,293.34 L95.10,291.40 L95.51,289.33 L95.89,287.11 L96.25,284.84 L96.60,282.60 L96.93,280.21 L97.24,277.69 L97.56,275.42 L97.90,273.80 L98.28,273.05 L98.69,272.91 L99.10,273.07 L99.50,273.20 L99.89,273.13 L100.29,273.07 L100.66,273.22 L101.00,273.80 L101.26,274.94 L101.48,276.51 L101.70,278.30 L102.00,280.10 L102.41,281.85 L102.89,283.67 L103.40,285.60 L103.90,287.70 L104.38,290.06 L104.87,292.62 L105.35,295.23 L105.80,297.70 L106.23,300.06 L106.64,302.37 L107.03,304.55 L107.40,306.50 L107.74,308.32 L108.06,310.02 L108.37,311.38 L108.70,312.20 L109.07,312.39 L109.45,312.07 L109.83,311.35 L110.20,310.30 L110.55,308.72 L110.88,306.63 L111.20,304.50 L111.50,302.80 L111.77,301.52 L112.03,300.46 L112.26,299.76 L112.50,299.60 L112.73,300.06 L112.96,301.05 L113.18,302.41 L113.40,304.00 L113.60,305.99 L113.79,308.40 L113.99,310.81 L114.20,312.80 L114.42,314.39 L114.66,315.74 L114.91,316.73 L115.20,317.20 L115.55,316.94 L115.94,316.08 L116.34,315.01 L116.70,314.10 L117.00,313.27 L117.27,312.38 L117.53,311.73 L117.80,311.60 L118.08,312.18 L118.37,313.28 L118.65,314.64 L118.90,316.00 L119.10,317.43 L119.26,319.02 L119.44,320.55 L119.70,321.80 L120.07,322.51 L120.53,322.86 L120.99,323.31 L121.40,324.30 L121.73,325.97 L122.03,328.07 L122.30,330.49 L122.60,333.10 L122.92,335.90 L123.25,338.93 L123.58,342.20 L123.90,345.70 L124.20,349.45 L124.50,353.46 L124.80,357.66 L125.10,362.00 L125.41,366.54 L125.73,371.28 L126.06,376.10 L126.40,380.90 L126.76,385.64 L127.13,390.38 L127.51,395.16 L127.90,400.00 L128.30,405.05 L128.72,410.25 L129.13,415.32 L129.50,420.00 L129.83,424.09 L130.12,427.78 L130.40,431.36 L130.70,435.10 L131.02,439.18 L131.34,443.41 L131.67,447.56 L132.00,451.40 L132.33,455.25 L132.66,459.11 L132.98,462.27 L133.30,464.00 L133.60,463.80 L133.89,462.15 L134.18,459.85 L134.50,457.70 L134.84,455.52 L135.21,453.01 L135.59,450.79 L136.00,449.50 L136.46,449.51 L136.96,450.43 L137.46,451.68 L137.90,452.70 L138.27,453.52 L138.59,454.39 L138.90,455.03 L139.20,455.20 L139.50,454.51 L139.77,453.22 L140.07,451.96 L140.40,451.40 L140.79,451.77 L141.21,452.71 L141.66,453.94 L142.10,455.20 L142.52,456.66 L142.94,458.37 L143.39,459.92 L143.90,460.90 L144.51,461.02 L145.19,460.57 L145.88,459.96 L146.50,459.60 L147.03,459.54 L147.50,459.58 L147.95,459.78 L148.40,460.20 L148.84,460.98 L149.26,462.06 L149.70,463.15 L150.20,464.00 L150.80,464.52 L151.46,464.85 L152.14,465.08 L152.80,465.30 L153.43,465.45 L154.06,465.52 L154.68,465.63 L155.30,465.90 L155.94,466.48 L156.59,467.26 L157.22,467.99 L157.80,468.40 L158.32,468.39 L158.79,468.12 L159.24,467.69 L159.70,467.20 L160.18,466.60 L160.66,465.86 L161.13,465.14 L161.60,464.60 L162.04,464.22 L162.46,463.94 L162.90,463.84 L163.40,464.00 L163.98,464.59 L164.62,465.52 L165.30,466.49 L166.00,467.20 L166.74,467.56 L167.52,467.74 L168.31,467.80 L169.10,467.80 L169.89,467.76 L170.68,467.66 L171.46,467.47 L172.20,467.20 L172.87,466.79 L173.50,466.26 L174.13,465.72 L174.80,465.30 L175.54,465.02 L176.32,464.83 L177.11,464.70 L177.90,464.60 L178.67,464.61 L179.44,464.71 L180.22,464.76 L181.00,464.60 L181.80,464.16 L182.60,463.54 L183.40,462.83 L184.20,462.10 L184.98,461.35 L185.75,460.54 L186.52,459.74 L187.30,459.00 L188.10,458.29 L188.90,457.59 L189.70,457.00 L190.50,456.60 L191.26,456.46 L192.00,456.53 L192.76,456.68 L193.60,456.80 L194.56,456.91 L195.60,457.05 L196.64,457.17 L197.60,457.20 L198.44,457.12 L199.20,456.97 L199.94,456.78 L200.70,456.60 L201.50,456.47 L202.30,456.37 L203.10,456.20 L203.90,455.90 L204.68,455.42 L205.46,454.80 L206.23,454.11 L207.00,453.40 L207.73,452.64 L208.43,451.81 L209.18,451.00 L210.10,450.30 L211.24,449.78 L212.53,449.37 L213.89,448.95 L215.20,448.40 L216.46,447.63 L217.71,446.72 L218.95,445.81 L220.20,445.00 L221.45,444.34 L222.69,443.76 L223.94,443.22 L225.20,442.70 L226.47,442.21 L227.75,441.76 L229.03,441.31 L230.30,440.80 L231.53,440.21 L232.73,439.56 L233.96,438.90 L235.30,438.30 L236.78,437.75 L238.37,437.23 L239.99,436.75 L241.60,436.30 L243.17,435.91 L244.74,435.57 L246.31,435.25 L247.90,434.90 L249.52,434.51 L251.17,434.11 L252.81,433.70 L254.40,433.30 L255.92,432.92 L257.39,432.55 L258.86,432.18 L260.40,431.80 L261.89,431.43 L263.34,431.06 L264.99,430.67 L267.10,430.20 L269.84,429.62 L273.03,428.97 L276.41,428.30 L279.70,427.70 L282.85,427.17 L286.00,426.68 L289.15,426.22 L292.30,425.80 L295.45,425.43 L298.61,425.11 L301.76,424.80 L304.90,424.50 L308.18,424.17 L311.56,423.84 L314.73,423.54 L317.40,423.30 L319.52,423.13 L321.23,423.02 L322.55,422.95 L323.50,422.90" stroke="#ff0d0d"/>
</g>
<text x="42.8" y="283.3" font-size="13.7" text-anchor="start" font-family="'Liberation Serif','DejaVu Serif',serif" font-weight="bold" >(c)</text>
<rect x="237.4" y="272.1" width="76.5" height="85.9" fill="#fff" stroke="#555" stroke-width="0.6"/>
<line x1="238.6" x2="265.3" y1="280.3" y2="280.3" stroke="#551a8b" stroke-width="2.0"/>
<text x="270.6" y="284.0" font-size="11" text-anchor="start" font-family="'Liberation Serif','DejaVu Serif',serif" font-weight="bold"  stroke="#000" stroke-width="0.18">1.90 K</text>
<line x1="238.6" x2="265.3" y1="294.3" y2="294.3" stroke="#0a0aa5" stroke-width="2.0"/>
<text x="270.6" y="298.0" font-size="11" text-anchor="start" font-family="'Liberation Serif','DejaVu Serif',serif" font-weight="bold"  stroke="#000" stroke-width="0.18">55.71 K</text>
<line x1="238.6" x2="265.3" y1="308.3" y2="308.3" stroke="#1464b4" stroke-width="2.0"/>
<text x="270.6" y="312.0" font-size="11" text-anchor="start" font-family="'Liberation Serif','DejaVu Serif',serif" font-weight="bold"  stroke="#000" stroke-width="0.18">104.32 K</text>
<line x1="238.6" x2="265.3" y1="322.3" y2="322.3" stroke="#7ddc1f" stroke-width="2.0"/>
<text x="270.6" y="326.0" font-size="11" text-anchor="start" font-family="'Liberation Serif','DejaVu Serif',serif" font-weight="bold"  stroke="#000" stroke-width="0.18">154.51 K</text>
<line x1="238.6" x2="265.3" y1="336.3" y2="336.3" stroke="#ff9900" stroke-width="2.0"/>
<text x="270.6" y="340.0" font-size="11" text-anchor="start" font-family="'Liberation Serif','DejaVu Serif',serif" font-weight="bold"  stroke="#000" stroke-width="0.18">208.61 K</text>
<line x1="238.6" x2="265.3" y1="350.3" y2="350.3" stroke="#ff0d0d" stroke-width="2.0"/>
<text x="270.6" y="354.0" font-size="11" text-anchor="start" font-family="'Liberation Serif','DejaVu Serif',serif" font-weight="bold"  stroke="#000" stroke-width="0.18">248.34 K</text>
</g>
<g id="panelD">
<clipPath id="cd"><rect x="375.8" y="262.7" width="291.05" height="215.8"/></clipPath>
<rect x="375.8" y="262.7" width="291.05" height="214.3" fill="none" stroke="#000" stroke-width="1.5"/>
<line x1="375.80" x2="375.80" y1="477.0" y2="473.1" stroke="#000" stroke-width="1.2"/>
<text x="375.80" y="488.3" font-size="9.8" text-anchor="middle" font-family="'Liberation Serif','DejaVu Serif',serif" font-weight="bold"  stroke="#000" stroke-width="0.2">0</text>
<line x1="412.18" x2="412.18" y1="477.0" y2="475.2" stroke="#000" stroke-width="1.2"/>
<line x1="448.56" x2="448.56" y1="477.0" y2="473.1" stroke="#000" stroke-width="1.2"/>
<text x="448.56" y="488.3" font-size="9.8" text-anchor="middle" font-family="'Liberation Serif','DejaVu Serif',serif" font-weight="bold"  stroke="#000" stroke-width="0.2">10</text>
<line x1="484.94" x2="484.94" y1="477.0" y2="475.2" stroke="#000" stroke-width="1.2"/>
<line x1="521.33" x2="521.33" y1="477.0" y2="473.1" stroke="#000" stroke-width="1.2"/>
<text x="521.33" y="488.3" font-size="9.8" text-anchor="middle" font-family="'Liberation Serif','DejaVu Serif',serif" font-weight="bold"  stroke="#000" stroke-width="0.2">20</text>
<line x1="557.71" x2="557.71" y1="477.0" y2="475.2" stroke="#000" stroke-width="1.2"/>
<line x1="594.09" x2="594.09" y1="477.0" y2="473.1" stroke="#000" stroke-width="1.2"/>
<text x="594.09" y="488.3" font-size="9.8" text-anchor="middle" font-family="'Liberation Serif','DejaVu Serif',serif" font-weight="bold"  stroke="#000" stroke-width="0.2">30</text>
<line x1="630.47" x2="630.47" y1="477.0" y2="475.2" stroke="#000" stroke-width="1.2"/>
<line x1="666.85" x2="666.85" y1="477.0" y2="473.1" stroke="#000" stroke-width="1.2"/>
<text x="666.85" y="488.3" font-size="9.8" text-anchor="middle" font-family="'Liberation Serif','DejaVu Serif',serif" font-weight="bold"  stroke="#000" stroke-width="0.2">40</text>
<line x1="375.8" x2="379.7" y1="477.00" y2="477.00" stroke="#000" stroke-width="1.2"/>
<text x="370.6" y="480.00" font-size="9.8" text-anchor="end" font-family="'Liberation Serif','DejaVu Serif',serif" font-weight="bold"  stroke="#000" stroke-width="0.2">0</text>
<line x1="375.8" x2="377.6" y1="450.21" y2="450.21" stroke="#000" stroke-width="1.2"/>
<line x1="375.8" x2="379.7" y1="423.43" y2="423.43" stroke="#000" stroke-width="1.2"/>
<text x="370.6" y="426.43" font-size="9.8" text-anchor="end" font-family="'Liberation Serif','DejaVu Serif',serif" font-weight="bold"  stroke="#000" stroke-width="0.2">1</text>
<line x1="375.8" x2="377.6" y1="396.64" y2="396.64" stroke="#000" stroke-width="1.2"/>
<line x1="375.8" x2="379.7" y1="369.85" y2="369.85" stroke="#000" stroke-width="1.2"/>
<text x="370.6" y="372.85" font-size="9.8" text-anchor="end" font-family="'Liberation Serif','DejaVu Serif',serif" font-weight="bold"  stroke="#000" stroke-width="0.2">2</text>
<line x1="375.8" x2="377.6" y1="343.06" y2="343.06" stroke="#000" stroke-width="1.2"/>
<line x1="375.8" x2="379.7" y1="316.27" y2="316.27" stroke="#000" stroke-width="1.2"/>
<text x="370.6" y="319.27" font-size="9.8" text-anchor="end" font-family="'Liberation Serif','DejaVu Serif',serif" font-weight="bold"  stroke="#000" stroke-width="0.2">3</text>
<line x1="375.8" x2="377.6" y1="289.49" y2="289.49" stroke="#000" stroke-width="1.2"/>
<line x1="375.8" x2="379.7" y1="262.70" y2="262.70" stroke="#000" stroke-width="1.2"/>
<text x="370.6" y="265.70" font-size="9.8" text-anchor="end" font-family="'Liberation Serif','DejaVu Serif',serif" font-weight="bold"  stroke="#000" stroke-width="0.2">4</text>
<text x="521.7" y="503.5" font-size="14" text-anchor="middle" font-family="'Liberation Serif','DejaVu Serif',serif" font-weight="bold" >Energy (eV)</text>
<text transform="translate(359.0,370.0) rotate(-90)" font-size="14.2" text-anchor="middle" font-family="'Liberation Serif','DejaVu Serif',serif" font-weight="bold">Imε<tspan font-size="9.5" font-style="italic" dy="3.4">zz</tspan><tspan dy="-3.4">(</tspan><tspan font-weight="normal">ω</tspan>)</text>
<g clip-path="url(#cd)" fill="none" stroke-linejoin="round" stroke-width="2.2">
<path d="M375.80,476.90 L379.55,476.89 L384.98,476.88 L390.65,476.85 L395.10,476.80 L397.88,476.74 L399.80,476.68 L401.25,476.57 L402.64,476.40 L404.02,476.16 L405.20,475.87 L406.20,475.52 L407.06,475.10 L407.71,474.64 L408.17,474.14 L408.55,473.55 L408.97,472.80 L409.45,471.78 L409.92,470.56 L410.40,469.35 L410.88,468.40 L411.37,467.80 L411.87,467.41 L412.35,467.11 L412.79,466.80 L413.15,466.36 L413.47,465.87 L413.77,465.52 L414.09,465.50 L414.44,465.96 L414.79,466.77 L415.17,467.67 L415.60,468.40 L416.10,468.92 L416.64,469.36 L417.22,469.72 L417.81,470.00 L418.43,470.22 L419.09,470.37 L419.73,470.41 L420.33,470.30 L420.85,470.04 L421.32,469.64 L421.77,469.10 L422.24,468.40 L422.71,467.44 L423.19,466.26 L423.67,465.05 L424.14,464.00 L424.62,463.15 L425.09,462.40 L425.56,461.75 L426.05,461.20 L426.56,460.74 L427.08,460.37 L427.62,460.11 L428.16,460.00 L428.73,460.11 L429.32,460.40 L429.91,460.72 L430.48,460.90 L431.03,460.96 L431.57,460.97 L432.09,460.84 L432.59,460.50 L433.05,459.91 L433.50,459.13 L433.91,458.18 L434.30,457.10 L434.62,455.78 L434.88,454.23 L435.16,452.70 L435.51,451.40 L435.96,450.46 L436.47,449.73 L437.00,449.06 L437.53,448.30 L438.04,447.47 L438.57,446.64 L439.08,445.68 L439.54,444.50 L439.95,443.04 L440.32,441.36 L440.64,439.53 L440.92,437.60 L441.12,435.53 L441.26,433.32 L441.39,431.04 L441.55,428.80 L441.76,426.77 L441.97,424.85 L442.22,422.71 L442.51,420.00 L442.87,416.39 L443.28,412.15 L443.71,407.83 L444.10,404.00 L444.44,400.81 L444.75,397.95 L445.05,395.32 L445.37,392.80 L445.70,390.40 L446.03,388.17 L446.38,386.05 L446.75,384.00 L447.14,382.06 L447.56,380.25 L448.00,378.44 L448.44,376.50 L448.91,374.27 L449.40,371.87 L449.88,369.58 L450.35,367.70 L450.80,366.21 L451.24,364.97 L451.66,364.16 L452.07,363.90 L452.44,364.48 L452.80,365.74 L453.14,367.18 L453.48,368.30 L453.81,369.07 L454.13,369.73 L454.45,370.14 L454.78,370.20 L455.13,369.93 L455.50,369.39 L455.86,368.45 L456.19,367.00 L456.48,364.84 L456.76,362.07 L457.02,359.10 L457.27,356.30 L457.53,353.62 L457.79,350.91 L458.03,348.39 L458.25,346.30 L458.42,344.64 L458.55,343.32 L458.69,342.38 L458.90,341.90 L459.20,342.19 L459.56,343.11 L459.94,344.06 L460.31,344.40 L460.63,344.15 L460.92,343.57 L461.24,342.46 L461.61,340.60 L462.05,337.63 L462.54,333.76 L463.05,329.66 L463.56,326.00 L464.09,322.96 L464.63,320.19 L465.16,317.53 L465.62,314.80 L466.00,312.01 L466.31,309.24 L466.61,306.42 L466.92,303.50 L467.27,300.44 L467.63,297.28 L467.98,294.08 L468.33,290.90 L468.66,287.64 L468.98,284.32 L469.30,281.13 L469.63,278.30 L469.99,275.83 L470.36,273.62 L470.72,271.73 L471.04,270.20 L471.31,269.02 L471.55,268.17 L471.77,267.71 L472.01,267.70 L472.26,268.31 L472.51,269.47 L472.77,270.84 L473.04,272.10 L473.32,273.22 L473.61,274.34 L473.92,275.45 L474.29,276.50 L474.74,277.31 L475.27,277.96 L475.79,278.80 L476.26,280.20 L476.64,282.28 L476.98,284.84 L477.29,287.75 L477.60,290.90 L477.92,294.45 L478.23,298.41 L478.53,302.39 L478.85,306.00 L479.19,309.15 L479.54,312.05 L479.88,314.75 L480.19,317.30 L480.46,319.53 L480.71,321.48 L480.93,323.51 L481.13,326.00 L481.30,329.35 L481.45,333.27 L481.59,337.05 L481.75,340.00 L481.90,341.85 L482.04,342.99 L482.22,343.74 L482.47,344.40 L482.85,344.81 L483.31,344.89 L483.78,345.05 L484.20,345.70 L484.53,347.06 L484.83,348.88 L485.11,350.84 L485.40,352.60 L485.69,354.18 L485.97,355.71 L486.29,357.09 L486.70,358.20 L487.26,358.80 L487.93,359.02 L488.61,359.31 L489.20,360.10 L489.65,361.59 L490.02,363.51 L490.38,365.63 L490.80,367.70 L491.29,369.82 L491.81,372.06 L492.37,374.15 L493.00,375.80 L493.74,376.74 L494.57,377.18 L495.39,377.58 L496.10,378.40 L496.65,379.81 L497.09,381.54 L497.51,383.43 L498.00,385.30 L498.59,387.21 L499.23,389.22 L499.88,391.14 L500.50,392.80 L501.08,394.11 L501.64,395.18 L502.19,396.11 L502.70,397.00 L503.19,397.76 L503.66,398.37 L504.10,399.05 L504.50,400.00 L504.83,401.40 L505.09,403.10 L505.36,404.82 L505.70,406.30 L506.10,407.50 L506.52,408.56 L507.02,409.43 L507.60,410.10 L508.32,410.41 L509.16,410.44 L510.02,410.44 L510.80,410.70 L511.49,411.25 L512.13,411.95 L512.73,412.83 L513.30,413.90 L513.79,415.21 L514.21,416.73 L514.65,418.38 L515.20,420.10 L515.90,421.99 L516.71,424.05 L517.54,426.03 L518.30,427.70 L518.95,428.93 L519.54,429.88 L520.14,430.69 L520.80,431.50 L521.57,432.28 L522.40,432.98 L523.23,433.71 L524.00,434.60 L524.66,435.71 L525.26,436.98 L525.85,438.30 L526.50,439.60 L527.23,440.91 L528.01,442.27 L528.80,443.56 L529.60,444.70 L530.40,445.66 L531.20,446.49 L532.00,447.20 L532.80,447.80 L533.57,448.29 L534.31,448.66 L535.08,448.92 L535.90,449.10 L536.83,449.10 L537.84,448.95 L538.83,448.82 L539.70,448.90 L540.40,449.23 L541.00,449.71 L541.57,450.31 L542.20,451.00 L542.94,451.83 L543.72,452.79 L544.51,453.79 L545.27,454.70 L545.96,455.45 L546.61,456.12 L547.27,456.83 L547.99,457.70 L548.81,458.86 L549.68,460.21 L550.58,461.56 L551.47,462.70 L552.36,463.59 L553.25,464.34 L554.15,464.96 L555.04,465.50 L555.91,465.87 L556.76,466.09 L557.64,466.32 L558.62,466.70 L559.69,467.34 L560.83,468.14 L562.04,468.95 L563.35,469.60 L564.74,470.02 L566.22,470.31 L567.78,470.57 L569.41,470.90 L571.13,471.36 L572.94,471.89 L574.79,472.40 L576.63,472.80 L578.45,473.05 L580.29,473.19 L582.12,473.29 L583.94,473.40 L585.75,473.50 L587.55,473.58 L589.35,473.67 L591.16,473.80 L592.98,473.98 L594.81,474.20 L596.64,474.44 L598.48,474.70 L600.32,475.00 L602.15,475.33 L604.00,475.65 L605.86,475.90 L607.52,476.05 L609.04,476.14 L610.86,476.21 L613.40,476.30 L616.50,476.43 L620.03,476.57 L624.45,476.70 L630.28,476.80 L638.89,476.86 L649.62,476.88 L659.82,476.89 L666.85,476.90" stroke="#551a8b"/>
<path d="M375.80,476.90 L379.54,476.89 L384.97,476.88 L390.63,476.85 L395.08,476.80 L397.86,476.74 L399.77,476.68 L401.22,476.57 L402.61,476.40 L403.99,476.16 L405.17,475.87 L406.17,475.52 L407.03,475.10 L407.68,474.64 L408.14,474.14 L408.52,473.55 L408.94,472.80 L409.41,471.78 L409.89,470.56 L410.37,469.35 L410.84,468.40 L411.33,467.80 L411.83,467.41 L412.32,467.11 L412.75,466.80 L413.11,466.36 L413.43,465.87 L413.73,465.52 L414.06,465.50 L414.40,465.96 L414.75,466.77 L415.13,467.67 L415.56,468.40 L416.06,468.92 L416.60,469.36 L417.18,469.72 L417.77,470.00 L418.39,470.22 L419.04,470.37 L419.69,470.41 L420.28,470.30 L420.80,470.04 L421.27,469.64 L421.73,469.10 L422.19,468.40 L422.66,467.44 L423.14,466.26 L423.62,465.05 L424.10,464.00 L424.57,463.15 L425.04,462.40 L425.51,461.75 L426.00,461.20 L426.51,460.74 L427.03,460.37 L427.57,460.11 L428.11,460.00 L428.68,460.11 L429.27,460.40 L429.85,460.72 L430.42,460.90 L430.97,460.96 L431.51,460.97 L432.04,460.84 L432.53,460.50 L433.00,459.91 L433.44,459.13 L433.85,458.18 L434.24,457.10 L434.56,455.78 L434.83,454.23 L435.10,452.70 L435.45,451.40 L435.89,450.46 L436.40,449.73 L436.92,449.06 L437.44,448.30 L437.95,447.47 L438.48,446.64 L438.98,445.68 L439.43,444.50 L439.83,443.04 L440.20,441.36 L440.52,439.53 L440.79,437.60 L441.00,435.53 L441.13,433.32 L441.26,431.04 L441.42,428.80 L441.62,426.77 L441.84,424.85 L442.08,422.71 L442.37,420.00 L442.72,416.39 L443.13,412.15 L443.55,407.83 L443.94,404.00 L444.27,400.81 L444.58,397.95 L444.88,395.32 L445.20,392.80 L445.52,390.40 L445.85,388.17 L446.19,386.05 L446.56,384.00 L446.95,382.06 L447.36,380.25 L447.79,378.44 L448.24,376.50 L448.70,374.27 L449.18,371.87 L449.66,369.58 L450.12,367.70 L450.57,366.21 L451.00,364.97 L451.42,364.16 L451.81,363.90 L452.18,364.48 L452.53,365.74 L452.87,367.18 L453.20,368.30 L453.53,369.07 L453.84,369.73 L454.16,370.14 L454.48,370.20 L454.83,369.93 L455.19,369.39 L455.54,368.45 L455.87,367.00 L456.16,364.84 L456.43,362.07 L456.69,359.10 L456.94,356.30 L457.19,353.62 L457.44,350.91 L457.68,348.39 L457.90,346.30 L458.06,344.64 L458.19,343.32 L458.33,342.38 L458.54,341.90 L458.84,342.19 L459.19,343.11 L459.57,344.06 L459.93,344.40 L460.24,344.15 L460.53,343.57 L460.84,342.46 L461.21,340.60 L461.64,337.63 L462.12,333.76 L462.63,329.66 L463.13,326.00 L463.65,322.96 L464.18,320.19 L464.70,317.53 L465.16,314.80 L465.53,312.01 L465.84,309.24 L466.13,306.42 L466.44,303.50 L466.78,300.44 L467.13,297.28 L467.48,294.08 L467.82,290.90 L468.15,287.64 L468.46,284.32 L468.78,281.13 L469.11,278.30 L469.45,275.83 L469.82,273.62 L470.17,271.73 L470.49,270.20 L470.76,269.02 L470.99,268.17 L471.21,267.71 L471.45,267.70 L471.69,268.31 L471.94,269.47 L472.20,270.84 L472.47,272.10 L472.75,273.22 L473.03,274.34 L473.35,275.45 L473.71,276.50 L474.16,277.31 L474.68,277.96 L475.20,278.80 L475.67,280.20 L476.05,282.28 L476.38,284.84 L476.69,287.75 L477.00,290.90 L477.32,294.45 L477.62,298.41 L477.92,302.39 L478.24,306.00 L478.57,309.15 L478.93,312.05 L479.27,314.75 L479.58,317.30 L479.84,319.53 L480.08,321.48 L480.30,323.51 L480.50,326.00 L480.68,329.35 L480.82,333.27 L480.96,337.05 L481.12,340.00 L481.27,341.85 L481.41,342.99 L481.59,343.74 L481.84,344.40 L482.21,344.81 L482.67,344.89 L483.14,345.05 L483.56,345.70 L483.89,347.06 L484.19,348.88 L484.47,350.84 L484.76,352.60 L485.05,354.18 L485.33,355.71 L485.65,357.09 L486.06,358.20 L486.62,358.80 L487.29,359.02 L487.97,359.31 L488.56,360.10 L489.01,361.59 L489.38,363.51 L489.74,365.63 L490.16,367.70 L490.65,369.82 L491.17,372.06 L491.73,374.15 L492.36,375.80 L493.10,376.74 L493.93,377.18 L494.75,377.58 L495.46,378.40 L496.01,379.81 L496.45,381.54 L496.87,383.43 L497.36,385.30 L497.95,387.21 L498.59,389.22 L499.24,391.14 L499.86,392.80 L500.44,394.11 L501.00,395.18 L501.55,396.11 L502.06,397.00 L502.55,397.76 L503.02,398.37 L503.46,399.05 L503.86,400.00 L504.19,401.40 L504.45,403.10 L504.72,404.82 L505.06,406.30 L505.46,407.50 L505.88,408.56 L506.38,409.43 L506.96,410.10 L507.69,410.41 L508.52,410.44 L509.38,410.44 L510.16,410.70 L510.85,411.25 L511.49,411.95 L512.09,412.83 L512.66,413.90 L513.15,415.21 L513.57,416.73 L514.01,418.38 L514.56,420.10 L515.26,421.99 L516.07,424.05 L516.90,426.03 L517.66,427.70 L518.31,428.93 L518.90,429.88 L519.50,430.69 L520.16,431.50 L520.93,432.28 L521.76,432.98 L522.59,433.71 L523.36,434.60 L524.02,435.71 L524.62,436.98 L525.21,438.30 L525.86,439.60 L526.59,440.91 L527.37,442.27 L528.16,443.56 L528.96,444.70 L529.76,445.66 L530.56,446.49 L531.36,447.20 L532.16,447.80 L532.93,448.29 L533.67,448.66 L534.44,448.92 L535.26,449.10 L536.19,449.10 L537.20,448.95 L538.18,448.82 L539.06,448.90 L539.76,449.23 L540.35,449.71 L540.92,450.31 L541.56,451.00 L542.30,451.83 L543.09,452.79 L543.89,453.79 L544.65,454.70 L545.35,455.45 L546.01,456.12 L546.68,456.83 L547.42,457.70 L548.24,458.86 L549.12,460.21 L550.03,461.56 L550.94,462.70 L551.84,463.59 L552.74,464.34 L553.65,464.96 L554.56,465.50 L555.43,465.87 L556.29,466.09 L557.19,466.32 L558.17,466.70 L559.26,467.34 L560.41,468.14 L561.64,468.95 L562.96,469.60 L564.37,470.02 L565.86,470.31 L567.43,470.57 L569.07,470.90 L570.80,471.36 L572.63,471.89 L574.49,472.40 L576.34,472.80 L578.18,473.05 L580.03,473.19 L581.88,473.29 L583.72,473.40 L585.54,473.50 L587.35,473.58 L589.17,473.67 L590.99,473.80 L592.83,473.98 L594.67,474.20 L596.52,474.44 L598.36,474.70 L600.21,475.00 L602.05,475.33 L603.91,475.65 L605.77,475.90 L607.43,476.05 L608.95,476.14 L610.77,476.21 L613.32,476.30 L616.43,476.43 L619.95,476.57 L624.39,476.70 L630.22,476.80 L638.85,476.86 L649.59,476.88 L659.81,476.89 L666.85,476.90" stroke="#0a0aa5"/>
<path d="M375.80,476.90 L379.54,476.89 L384.96,476.88 L390.62,476.85 L395.06,476.80 L397.84,476.74 L399.75,476.68 L401.20,476.57 L402.58,476.40 L403.96,476.16 L405.14,475.87 L406.14,475.52 L407.00,475.10 L407.65,474.64 L408.11,474.14 L408.48,473.55 L408.90,472.80 L409.38,471.78 L409.85,470.56 L410.33,469.35 L410.81,468.40 L411.30,467.80 L411.80,467.41 L412.28,467.11 L412.71,466.80 L413.08,466.36 L413.39,465.87 L413.69,465.52 L414.02,465.50 L414.36,465.96 L414.71,466.77 L415.09,467.67 L415.52,468.40 L416.02,468.92 L416.56,469.36 L417.14,469.72 L417.73,470.00 L418.35,470.22 L419.00,470.37 L419.64,470.41 L420.24,470.30 L420.75,470.04 L421.23,469.64 L421.68,469.10 L422.14,468.40 L422.62,467.44 L423.09,466.26 L423.57,465.05 L424.05,464.00 L424.52,463.15 L424.99,462.40 L425.46,461.75 L425.95,461.20 L426.46,460.74 L426.98,460.37 L427.51,460.11 L428.06,460.00 L428.63,460.11 L429.21,460.40 L429.80,460.72 L430.37,460.90 L430.92,460.96 L431.46,460.97 L431.98,460.84 L432.47,460.50 L432.94,459.91 L433.38,459.13 L433.79,458.18 L434.18,457.10 L434.50,455.78 L434.77,454.23 L435.04,452.70 L435.39,451.40 L435.83,450.46 L436.32,449.73 L436.85,449.06 L437.36,448.30 L437.86,447.47 L438.38,446.64 L438.88,445.68 L439.32,444.50 L439.72,443.04 L440.08,441.36 L440.40,439.53 L440.67,437.60 L440.87,435.53 L441.01,433.32 L441.13,431.04 L441.29,428.80 L441.49,426.77 L441.70,424.85 L441.94,422.71 L442.22,420.00 L442.58,416.39 L442.98,412.15 L443.40,407.83 L443.78,404.00 L444.11,400.81 L444.41,397.95 L444.71,395.32 L445.02,392.80 L445.34,390.40 L445.67,388.17 L446.01,386.05 L446.37,384.00 L446.76,382.06 L447.17,380.25 L447.59,378.44 L448.03,376.50 L448.48,374.27 L448.96,371.87 L449.43,369.58 L449.89,367.70 L450.33,366.21 L450.76,364.97 L451.17,364.16 L451.56,363.90 L451.93,364.48 L452.27,365.74 L452.60,367.18 L452.93,368.30 L453.25,369.07 L453.56,369.73 L453.87,370.14 L454.19,370.20 L454.53,369.93 L454.88,369.39 L455.23,368.45 L455.55,367.00 L455.84,364.84 L456.10,362.07 L456.36,359.10 L456.60,356.30 L456.85,353.62 L457.10,350.91 L457.34,348.39 L457.55,346.30 L457.71,344.64 L457.84,343.32 L457.98,342.38 L458.18,341.90 L458.47,342.19 L458.82,343.11 L459.19,344.06 L459.54,344.40 L459.85,344.15 L460.14,343.57 L460.45,342.46 L460.81,340.60 L461.23,337.63 L461.70,333.76 L462.20,329.66 L462.70,326.00 L463.20,322.96 L463.73,320.19 L464.24,317.53 L464.69,314.80 L465.06,312.01 L465.36,309.24 L465.65,306.42 L465.95,303.50 L466.29,300.44 L466.64,297.28 L466.98,294.08 L467.32,290.90 L467.64,287.64 L467.95,284.32 L468.26,281.13 L468.58,278.30 L468.92,275.83 L469.28,273.62 L469.63,271.73 L469.94,270.20 L470.21,269.02 L470.44,268.17 L470.65,267.71 L470.88,267.70 L471.13,268.31 L471.38,269.47 L471.63,270.84 L471.91,272.10 L472.18,273.22 L472.46,274.34 L472.77,275.45 L473.13,276.50 L473.58,277.31 L474.10,277.96 L474.61,278.80 L475.07,280.20 L475.45,282.28 L475.78,284.84 L476.09,287.75 L476.40,290.90 L476.71,294.45 L477.02,298.41 L477.32,302.39 L477.63,306.00 L477.96,309.15 L478.31,312.05 L478.65,314.75 L478.96,317.30 L479.22,319.53 L479.46,321.48 L479.68,323.51 L479.88,326.00 L480.05,329.35 L480.20,333.27 L480.34,337.05 L480.49,340.00 L480.64,341.85 L480.78,342.99 L480.95,343.74 L481.20,344.40 L481.58,344.81 L482.03,344.89 L482.50,345.05 L482.92,345.70 L483.25,347.06 L483.55,348.88 L483.83,350.84 L484.12,352.60 L484.41,354.18 L484.69,355.71 L485.01,357.09 L485.42,358.20 L485.98,358.80 L486.65,359.02 L487.33,359.31 L487.92,360.10 L488.37,361.59 L488.74,363.51 L489.10,365.63 L489.52,367.70 L490.01,369.82 L490.53,372.06 L491.09,374.15 L491.72,375.80 L492.46,376.74 L493.29,377.18 L494.11,377.58 L494.82,378.40 L495.37,379.81 L495.81,381.54 L496.23,383.43 L496.72,385.30 L497.31,387.21 L497.95,389.22 L498.60,391.14 L499.22,392.80 L499.80,394.11 L500.36,395.18 L500.91,396.11 L501.42,397.00 L501.91,397.76 L502.38,398.37 L502.82,399.05 L503.22,400.00 L503.55,401.40 L503.81,403.10 L504.08,404.82 L504.42,406.30 L504.82,407.50 L505.25,408.56 L505.74,409.43 L506.32,410.10 L507.05,410.41 L507.88,410.44 L508.74,410.44 L509.52,410.70 L510.21,411.25 L510.85,411.95 L511.45,412.83 L512.02,413.90 L512.51,415.21 L512.93,416.73 L513.37,418.38 L513.92,420.10 L514.62,421.99 L515.43,424.05 L516.26,426.03 L517.02,427.70 L517.67,428.93 L518.26,429.88 L518.86,430.69 L519.52,431.50 L520.29,432.28 L521.12,432.98 L521.95,433.71 L522.72,434.60 L523.38,435.71 L523.98,436.98 L524.57,438.30 L525.22,439.60 L525.95,440.91 L526.73,442.27 L527.52,443.56 L528.32,444.70 L529.12,445.66 L529.92,446.49 L530.72,447.20 L531.52,447.80 L532.29,448.29 L533.03,448.66 L533.80,448.92 L534.62,449.10 L535.55,449.10 L536.56,448.95 L537.55,448.82 L538.42,448.90 L539.12,449.23 L539.71,449.71 L540.28,450.31 L540.92,451.00 L541.66,451.83 L542.46,452.79 L543.27,453.79 L544.04,454.70 L544.74,455.45 L545.41,456.12 L546.09,456.83 L546.84,457.70 L547.67,458.86 L548.57,460.21 L549.49,461.56 L550.40,462.70 L551.31,463.59 L552.23,464.34 L553.15,464.96 L554.07,465.50 L554.95,465.87 L555.82,466.09 L556.73,466.32 L557.73,466.70 L558.83,467.34 L559.99,468.14 L561.24,468.95 L562.57,469.60 L563.99,470.02 L565.49,470.31 L567.07,470.57 L568.73,470.90 L570.47,471.36 L572.31,471.89 L574.19,472.40 L576.06,472.80 L577.91,473.05 L579.77,473.19 L581.63,473.29 L583.49,473.40 L585.32,473.50 L587.15,473.58 L588.98,473.67 L590.82,473.80 L592.67,473.98 L594.53,474.20 L596.39,474.44 L598.25,474.70 L600.10,475.00 L601.95,475.33 L603.81,475.65 L605.68,475.90 L607.34,476.05 L608.87,476.14 L610.69,476.21 L613.24,476.30 L616.35,476.43 L619.88,476.57 L624.33,476.70 L630.17,476.80 L638.81,476.86 L649.57,476.88 L659.80,476.89 L666.85,476.90" stroke="#1464b4"/>
<path d="M375.80,476.90 L379.53,476.89 L384.95,476.88 L390.60,476.85 L395.04,476.80 L397.82,476.74 L399.72,476.68 L401.17,476.57 L402.56,476.40 L403.93,476.16 L405.11,475.87 L406.11,475.52 L406.96,475.10 L407.62,474.64 L408.07,474.14 L408.45,473.55 L408.87,472.80 L409.34,471.78 L409.82,470.56 L410.30,469.35 L410.77,468.40 L411.26,467.80 L411.76,467.41 L412.24,467.11 L412.68,466.80 L413.04,466.36 L413.35,465.87 L413.65,465.52 L413.98,465.50 L414.32,465.96 L414.67,466.77 L415.05,467.67 L415.48,468.40 L415.98,468.92 L416.52,469.36 L417.10,469.72 L417.69,470.00 L418.30,470.22 L418.96,470.37 L419.60,470.41 L420.19,470.30 L420.71,470.04 L421.18,469.64 L421.63,469.10 L422.09,468.40 L422.57,467.44 L423.05,466.26 L423.52,465.05 L424.00,464.00 L424.47,463.15 L424.94,462.40 L425.41,461.75 L425.90,461.20 L426.41,460.74 L426.93,460.37 L427.46,460.11 L428.01,460.00 L428.57,460.11 L429.16,460.40 L429.74,460.72 L430.31,460.90 L430.86,460.96 L431.40,460.97 L431.92,460.84 L432.41,460.50 L432.88,459.91 L433.32,459.13 L433.74,458.18 L434.12,457.10 L434.44,455.78 L434.71,454.23 L434.98,452.70 L435.32,451.40 L435.76,450.46 L436.25,449.73 L436.77,449.06 L437.27,448.30 L437.77,447.47 L438.28,446.64 L438.77,445.68 L439.22,444.50 L439.61,443.04 L439.96,441.36 L440.28,439.53 L440.55,437.60 L440.74,435.53 L440.88,433.32 L441.00,431.04 L441.16,428.80 L441.36,426.77 L441.56,424.85 L441.80,422.71 L442.08,420.00 L442.43,416.39 L442.83,412.15 L443.24,407.83 L443.62,404.00 L443.95,400.81 L444.25,397.95 L444.54,395.32 L444.85,392.80 L445.17,390.40 L445.49,388.17 L445.82,386.05 L446.18,384.00 L446.56,382.06 L446.97,380.25 L447.39,378.44 L447.82,376.50 L448.27,374.27 L448.74,371.87 L449.21,369.58 L449.66,367.70 L450.09,366.21 L450.52,364.97 L450.92,364.16 L451.31,363.90 L451.67,364.48 L452.00,365.74 L452.33,367.18 L452.65,368.30 L452.97,369.07 L453.27,369.73 L453.58,370.14 L453.89,370.20 L454.23,369.93 L454.58,369.39 L454.92,368.45 L455.23,367.00 L455.52,364.84 L455.78,362.07 L456.02,359.10 L456.27,356.30 L456.52,353.62 L456.76,350.91 L456.99,348.39 L457.20,346.30 L457.36,344.64 L457.48,343.32 L457.62,342.38 L457.82,341.90 L458.11,342.19 L458.45,343.11 L458.82,344.06 L459.16,344.40 L459.47,344.15 L459.75,343.57 L460.05,342.46 L460.40,340.60 L460.82,337.63 L461.29,333.76 L461.78,329.66 L462.26,326.00 L462.76,322.96 L463.28,320.19 L463.79,317.53 L464.23,314.80 L464.59,312.01 L464.89,309.24 L465.17,306.42 L465.47,303.50 L465.80,300.44 L466.14,297.28 L466.48,294.08 L466.81,290.90 L467.13,287.64 L467.43,284.32 L467.74,281.13 L468.05,278.30 L468.39,275.83 L468.74,273.62 L469.09,271.73 L469.40,270.20 L469.66,269.02 L469.88,268.17 L470.09,267.71 L470.32,267.70 L470.57,268.31 L470.81,269.47 L471.07,270.84 L471.34,272.10 L471.61,273.22 L471.89,274.34 L472.20,275.45 L472.55,276.50 L473.00,277.31 L473.51,277.96 L474.03,278.80 L474.48,280.20 L474.86,282.28 L475.19,284.84 L475.49,287.75 L475.80,290.90 L476.11,294.45 L476.41,298.41 L476.71,302.39 L477.02,306.00 L477.35,309.15 L477.70,312.05 L478.03,314.75 L478.34,317.30 L478.60,319.53 L478.84,321.48 L479.05,323.51 L479.25,326.00 L479.42,329.35 L479.57,333.27 L479.71,337.05 L479.86,340.00 L480.01,341.85 L480.15,342.99 L480.32,343.74 L480.57,344.40 L480.94,344.81 L481.39,344.89 L481.86,345.05 L482.28,345.70 L482.61,347.06 L482.91,348.88 L483.18,350.84 L483.48,352.60 L483.77,354.18 L484.05,355.71 L484.37,357.09 L484.78,358.20 L485.34,358.80 L486.01,359.02 L486.69,359.31 L487.28,360.10 L487.73,361.59 L488.10,363.51 L488.46,365.63 L488.88,367.70 L489.37,369.82 L489.89,372.06 L490.45,374.15 L491.08,375.80 L491.82,376.74 L492.65,377.18 L493.47,377.58 L494.18,378.40 L494.73,379.81 L495.17,381.54 L495.59,383.43 L496.08,385.30 L496.67,387.21 L497.31,389.22 L497.96,391.14 L498.58,392.80 L499.16,394.11 L499.72,395.18 L500.27,396.11 L500.78,397.00 L501.27,397.76 L501.74,398.37 L502.18,399.05 L502.58,400.00 L502.91,401.40 L503.17,403.10 L503.44,404.82 L503.78,406.30 L504.18,407.50 L504.60,408.56 L505.10,409.43 L505.68,410.10 L506.40,410.41 L507.24,410.44 L508.10,410.44 L508.88,410.70 L509.57,411.25 L510.21,411.95 L510.81,412.83 L511.38,413.90 L511.87,415.21 L512.29,416.73 L512.73,418.38 L513.28,420.10 L513.98,421.99 L514.79,424.05 L515.62,426.03 L516.38,427.70 L517.03,428.93 L517.62,429.88 L518.22,430.69 L518.88,431.50 L519.65,432.28 L520.48,432.98 L521.31,433.71 L522.08,434.60 L522.74,435.71 L523.34,436.98 L523.93,438.30 L524.58,439.60 L525.31,440.91 L526.09,442.27 L526.88,443.56 L527.68,444.70 L528.48,445.66 L529.28,446.49 L530.08,447.20 L530.88,447.80 L531.65,448.29 L532.39,448.66 L533.16,448.92 L533.98,449.10 L534.91,449.10 L535.92,448.95 L536.90,448.82 L537.78,448.90 L538.48,449.23 L539.07,449.71 L539.64,450.31 L540.28,451.00 L541.03,451.83 L541.83,452.79 L542.65,453.79 L543.43,454.70 L544.14,455.45 L544.81,456.12 L545.50,456.83 L546.26,457.70 L547.10,458.86 L548.01,460.21 L548.94,461.56 L549.87,462.70 L550.79,463.59 L551.72,464.34 L552.65,464.96 L553.58,465.50 L554.48,465.87 L555.36,466.09 L556.28,466.32 L557.29,466.70 L558.40,467.34 L559.58,468.14 L560.84,468.95 L562.18,469.60 L563.61,470.02 L565.13,470.31 L566.72,470.57 L568.38,470.90 L570.15,471.36 L572.00,471.89 L573.89,472.40 L575.77,472.80 L577.64,473.05 L579.51,473.19 L581.39,473.29 L583.26,473.40 L585.11,473.50 L586.95,473.58 L588.79,473.67 L590.65,473.80 L592.51,473.98 L594.38,474.20 L596.26,474.44 L598.13,474.70 L599.99,475.00 L601.85,475.33 L603.71,475.65 L605.58,475.90 L607.25,476.05 L608.78,476.14 L610.60,476.21 L613.16,476.30 L616.28,476.43 L619.81,476.57 L624.26,476.70 L630.11,476.80 L638.77,476.86 L649.54,476.88 L659.78,476.89 L666.85,476.90" stroke="#7ddc1f"/>
<path d="M375.80,476.90 L379.53,476.89 L384.94,476.88 L390.59,476.85 L395.02,476.80 L397.79,476.74 L399.70,476.68 L401.14,476.57 L402.53,476.40 L403.91,476.16 L405.08,475.87 L406.08,475.52 L406.93,475.10 L407.58,474.64 L408.04,474.14 L408.42,473.55 L408.83,472.80 L409.31,471.78 L409.78,470.56 L410.26,469.35 L410.74,468.40 L411.23,467.80 L411.72,467.41 L412.20,467.11 L412.64,466.80 L413.00,466.36 L413.31,465.87 L413.61,465.52 L413.94,465.50 L414.28,465.96 L414.63,466.77 L415.01,467.67 L415.44,468.40 L415.93,468.92 L416.48,469.36 L417.05,469.72 L417.64,470.00 L418.26,470.22 L418.91,470.37 L419.55,470.41 L420.15,470.30 L420.66,470.04 L421.13,469.64 L421.59,469.10 L422.05,468.40 L422.52,467.44 L423.00,466.26 L423.47,465.05 L423.95,464.00 L424.42,463.15 L424.89,462.40 L425.36,461.75 L425.85,461.20 L426.36,460.74 L426.88,460.37 L427.41,460.11 L427.95,460.00 L428.52,460.11 L429.10,460.40 L429.69,460.72 L430.26,460.90 L430.80,460.96 L431.34,460.97 L431.86,460.84 L432.36,460.50 L432.82,459.91 L433.26,459.13 L433.68,458.18 L434.06,457.10 L434.38,455.78 L434.65,454.23 L434.92,452.70 L435.26,451.40 L435.69,450.46 L436.18,449.73 L436.69,449.06 L437.19,448.30 L437.68,447.47 L438.18,446.64 L438.67,445.68 L439.11,444.50 L439.50,443.04 L439.85,441.36 L440.16,439.53 L440.42,437.60 L440.62,435.53 L440.75,433.32 L440.87,431.04 L441.03,428.80 L441.22,426.77 L441.43,424.85 L441.66,422.71 L441.94,420.00 L442.29,416.39 L442.68,412.15 L443.09,407.83 L443.46,404.00 L443.78,400.81 L444.08,397.95 L444.37,395.32 L444.67,392.80 L444.99,390.40 L445.31,388.17 L445.64,386.05 L445.99,384.00 L446.37,382.06 L446.77,380.25 L447.18,378.44 L447.61,376.50 L448.05,374.27 L448.52,371.87 L448.98,369.58 L449.43,367.70 L449.86,366.21 L450.27,364.97 L450.67,364.16 L451.05,363.90 L451.41,364.48 L451.74,365.74 L452.06,367.18 L452.38,368.30 L452.69,369.07 L452.99,369.73 L453.29,370.14 L453.60,370.20 L453.93,369.93 L454.27,369.39 L454.61,368.45 L454.92,367.00 L455.20,364.84 L455.45,362.07 L455.69,359.10 L455.93,356.30 L456.18,353.62 L456.42,350.91 L456.64,348.39 L456.85,346.30 L457.01,344.64 L457.13,343.32 L457.26,342.38 L457.46,341.90 L457.74,342.19 L458.08,343.11 L458.44,344.06 L458.78,344.40 L459.08,344.15 L459.36,343.57 L459.66,342.46 L460.00,340.60 L460.41,337.63 L460.87,333.76 L461.35,329.66 L461.83,326.00 L462.32,322.96 L462.84,320.19 L463.33,317.53 L463.76,314.80 L464.12,312.01 L464.41,309.24 L464.69,306.42 L464.98,303.50 L465.31,300.44 L465.65,297.28 L465.98,294.08 L466.31,290.90 L466.62,287.64 L466.92,284.32 L467.22,281.13 L467.53,278.30 L467.86,275.83 L468.21,273.62 L468.54,271.73 L468.85,270.20 L469.10,269.02 L469.32,268.17 L469.54,267.71 L469.76,267.70 L470.00,268.31 L470.25,269.47 L470.50,270.84 L470.77,272.10 L471.04,273.22 L471.32,274.34 L471.62,275.45 L471.98,276.50 L472.42,277.31 L472.93,277.96 L473.44,278.80 L473.89,280.20 L474.26,282.28 L474.59,284.84 L474.89,287.75 L475.20,290.90 L475.51,294.45 L475.81,298.41 L476.10,302.39 L476.41,306.00 L476.74,309.15 L477.08,312.05 L477.42,314.75 L477.72,317.30 L477.98,319.53 L478.22,321.48 L478.43,323.51 L478.63,326.00 L478.80,329.35 L478.94,333.27 L479.08,337.05 L479.23,340.00 L479.38,341.85 L479.51,342.99 L479.69,343.74 L479.93,344.40 L480.30,344.81 L480.76,344.89 L481.23,345.05 L481.64,345.70 L481.97,347.06 L482.27,348.88 L482.54,350.84 L482.84,352.60 L483.13,354.18 L483.41,355.71 L483.73,357.09 L484.14,358.20 L484.70,358.80 L485.37,359.02 L486.05,359.31 L486.64,360.10 L487.09,361.59 L487.46,363.51 L487.82,365.63 L488.24,367.70 L488.73,369.82 L489.25,372.06 L489.81,374.15 L490.44,375.80 L491.18,376.74 L492.01,377.18 L492.83,377.58 L493.54,378.40 L494.09,379.81 L494.53,381.54 L494.95,383.43 L495.44,385.30 L496.03,387.21 L496.67,389.22 L497.32,391.14 L497.94,392.80 L498.52,394.11 L499.08,395.18 L499.63,396.11 L500.14,397.00 L500.63,397.76 L501.10,398.37 L501.54,399.05 L501.94,400.00 L502.27,401.40 L502.53,403.10 L502.80,404.82 L503.14,406.30 L503.54,407.50 L503.97,408.56 L504.46,409.43 L505.04,410.10 L505.76,410.41 L506.60,410.44 L507.46,410.44 L508.24,410.70 L508.93,411.25 L509.57,411.95 L510.17,412.83 L510.74,413.90 L511.23,415.21 L511.65,416.73 L512.09,418.38 L512.64,420.10 L513.34,421.99 L514.15,424.05 L514.98,426.03 L515.74,427.70 L516.39,428.93 L516.98,429.88 L517.58,430.69 L518.24,431.50 L519.01,432.28 L519.84,432.98 L520.67,433.71 L521.44,434.60 L522.10,435.71 L522.70,436.98 L523.29,438.30 L523.94,439.60 L524.67,440.91 L525.45,442.27 L526.24,443.56 L527.04,444.70 L527.84,445.66 L528.64,446.49 L529.44,447.20 L530.24,447.80 L531.01,448.29 L531.75,448.66 L532.52,448.92 L533.34,449.10 L534.27,449.10 L535.28,448.95 L536.26,448.82 L537.14,448.90 L537.84,449.23 L538.43,449.71 L539.00,450.31 L539.64,451.00 L540.39,451.83 L541.20,452.79 L542.03,453.79 L542.81,454.70 L543.53,455.45 L544.22,456.12 L544.91,456.83 L545.68,457.70 L546.53,458.86 L547.45,460.21 L548.40,461.56 L549.33,462.70 L550.27,463.59 L551.21,464.34 L552.15,464.96 L553.09,465.50 L554.00,465.87 L554.89,466.09 L555.82,466.32 L556.84,466.70 L557.97,467.34 L559.16,468.14 L560.43,468.95 L561.79,469.60 L563.23,470.02 L564.76,470.31 L566.36,470.57 L568.04,470.90 L569.82,471.36 L571.68,471.89 L573.59,472.40 L575.49,472.80 L577.37,473.05 L579.26,473.19 L581.15,473.29 L583.03,473.40 L584.89,473.50 L586.75,473.58 L588.61,473.67 L590.47,473.80 L592.35,473.98 L594.24,474.20 L596.13,474.44 L598.02,474.70 L599.89,475.00 L601.75,475.33 L603.62,475.65 L605.49,475.90 L607.16,476.05 L608.69,476.14 L610.52,476.21 L613.08,476.30 L616.20,476.43 L619.74,476.57 L624.20,476.70 L630.06,476.80 L638.72,476.86 L649.51,476.88 L659.77,476.89 L666.85,476.90" stroke="#ff9900"/>
<path d="M375.80,476.90 L379.52,476.89 L384.93,476.88 L390.57,476.85 L395.00,476.80 L397.77,476.74 L399.68,476.68 L401.12,476.57 L402.50,476.40 L403.88,476.16 L405.05,475.87 L406.05,475.52 L406.90,475.10 L407.55,474.64 L408.01,474.14 L408.38,473.55 L408.80,472.80 L409.28,471.78 L409.75,470.56 L410.23,469.35 L410.70,468.40 L411.19,467.80 L411.69,467.41 L412.17,467.11 L412.60,466.80 L412.96,466.36 L413.28,465.87 L413.58,465.52 L413.90,465.50 L414.24,465.96 L414.59,466.77 L414.97,467.67 L415.40,468.40 L415.89,468.92 L416.44,469.36 L417.01,469.72 L417.60,470.00 L418.22,470.22 L418.87,470.37 L419.51,470.41 L420.10,470.30 L420.62,470.04 L421.09,469.64 L421.54,469.10 L422.00,468.40 L422.48,467.44 L422.95,466.26 L423.43,465.05 L423.90,464.00 L424.37,463.15 L424.84,462.40 L425.31,461.75 L425.80,461.20 L426.31,460.74 L426.82,460.37 L427.36,460.11 L427.90,460.00 L428.47,460.11 L429.05,460.40 L429.63,460.72 L430.20,460.90 L430.75,460.96 L431.29,460.97 L431.81,460.84 L432.30,460.50 L432.76,459.91 L433.21,459.13 L433.62,458.18 L434.00,457.10 L434.32,455.78 L434.59,454.23 L434.86,452.70 L435.20,451.40 L435.63,450.46 L436.11,449.73 L436.61,449.06 L437.10,448.30 L437.59,447.47 L438.09,446.64 L438.57,445.68 L439.00,444.50 L439.38,443.04 L439.73,441.36 L440.04,439.53 L440.30,437.60 L440.49,435.53 L440.62,433.32 L440.75,431.04 L440.90,428.80 L441.09,426.77 L441.29,424.85 L441.53,422.71 L441.80,420.00 L442.14,416.39 L442.53,412.15 L442.93,407.83 L443.30,404.00 L443.62,400.81 L443.91,397.95 L444.20,395.32 L444.50,392.80 L444.81,390.40 L445.12,388.17 L445.45,386.05 L445.80,384.00 L446.17,382.06 L446.57,380.25 L446.98,378.44 L447.40,376.50 L447.84,374.27 L448.30,371.87 L448.76,369.58 L449.20,367.70 L449.62,366.21 L450.03,364.97 L450.43,364.16 L450.80,363.90 L451.15,364.48 L451.48,365.74 L451.79,367.18 L452.10,368.30 L452.40,369.07 L452.70,369.73 L453.00,370.14 L453.30,370.20 L453.62,369.93 L453.96,369.39 L454.29,368.45 L454.60,367.00 L454.87,364.84 L455.12,362.07 L455.36,359.10 L455.60,356.30 L455.84,353.62 L456.08,350.91 L456.30,348.39 L456.50,346.30 L456.65,344.64 L456.78,343.32 L456.91,342.38 L457.10,341.90 L457.38,342.19 L457.71,343.11 L458.07,344.06 L458.40,344.40 L458.69,344.15 L458.97,343.57 L459.26,342.46 L459.60,340.60 L460.01,337.63 L460.46,333.76 L460.93,329.66 L461.40,326.00 L461.88,322.96 L462.39,320.19 L462.87,317.53 L463.30,314.80 L463.65,312.01 L463.94,309.24 L464.21,306.42 L464.50,303.50 L464.82,300.44 L465.15,297.28 L465.48,294.08 L465.80,290.90 L466.10,287.64 L466.40,284.32 L466.70,281.13 L467.00,278.30 L467.33,275.83 L467.67,273.62 L468.00,271.73 L468.30,270.20 L468.55,269.02 L468.77,268.17 L468.98,267.71 L469.20,267.70 L469.44,268.31 L469.68,269.47 L469.93,270.84 L470.20,272.10 L470.47,273.22 L470.74,274.34 L471.05,275.45 L471.40,276.50 L471.84,277.31 L472.34,277.96 L472.85,278.80 L473.30,280.20 L473.67,282.28 L473.99,284.84 L474.30,287.75 L474.60,290.90 L474.90,294.45 L475.20,298.41 L475.50,302.39 L475.80,306.00 L476.13,309.15 L476.47,312.05 L476.80,314.75 L477.10,317.30 L477.36,319.53 L477.59,321.48 L477.81,323.51 L478.00,326.00 L478.17,329.35 L478.31,333.27 L478.45,337.05 L478.60,340.00 L478.74,341.85 L478.88,342.99 L479.05,343.74 L479.30,344.40 L479.67,344.81 L480.12,344.89 L480.59,345.05 L481.00,345.70 L481.33,347.06 L481.62,348.88 L481.90,350.84 L482.20,352.60 L482.49,354.18 L482.77,355.71 L483.09,357.09 L483.50,358.20 L484.06,358.80 L484.73,359.02 L485.41,359.31 L486.00,360.10 L486.45,361.59 L486.82,363.51 L487.18,365.63 L487.60,367.70 L488.09,369.82 L488.61,372.06 L489.17,374.15 L489.80,375.80 L490.54,376.74 L491.37,377.18 L492.19,377.58 L492.90,378.40 L493.45,379.81 L493.89,381.54 L494.31,383.43 L494.80,385.30 L495.39,387.21 L496.03,389.22 L496.68,391.14 L497.30,392.80 L497.88,394.11 L498.44,395.18 L498.99,396.11 L499.50,397.00 L499.99,397.76 L500.46,398.37 L500.90,399.05 L501.30,400.00 L501.63,401.40 L501.89,403.10 L502.16,404.82 L502.50,406.30 L502.90,407.50 L503.32,408.56 L503.82,409.43 L504.40,410.10 L505.12,410.41 L505.96,410.44 L506.82,410.44 L507.60,410.70 L508.29,411.25 L508.93,411.95 L509.53,412.83 L510.10,413.90 L510.59,415.21 L511.01,416.73 L511.45,418.38 L512.00,420.10 L512.70,421.99 L513.51,424.05 L514.34,426.03 L515.10,427.70 L515.75,428.93 L516.34,429.88 L516.94,430.69 L517.60,431.50 L518.37,432.28 L519.20,432.98 L520.03,433.71 L520.80,434.60 L521.46,435.71 L522.06,436.98 L522.65,438.30 L523.30,439.60 L524.03,440.91 L524.81,442.27 L525.60,443.56 L526.40,444.70 L527.20,445.66 L528.00,446.49 L528.80,447.20 L529.60,447.80 L530.37,448.29 L531.11,448.66 L531.88,448.92 L532.70,449.10 L533.63,449.10 L534.64,448.95 L535.62,448.82 L536.50,448.90 L537.20,449.23 L537.79,449.71 L538.36,450.31 L539.00,451.00 L539.76,451.83 L540.57,452.79 L541.40,453.79 L542.20,454.70 L542.93,455.45 L543.62,456.12 L544.33,456.83 L545.10,457.70 L545.97,458.86 L546.89,460.21 L547.85,461.56 L548.80,462.70 L549.74,463.59 L550.69,464.34 L551.65,464.96 L552.60,465.50 L553.52,465.87 L554.43,466.09 L555.37,466.32 L556.40,466.70 L557.54,467.34 L558.74,468.14 L560.03,468.95 L561.40,469.60 L562.86,470.02 L564.39,470.31 L566.01,470.57 L567.70,470.90 L569.49,471.36 L571.37,471.89 L573.29,472.40 L575.20,472.80 L577.10,473.05 L579.00,473.19 L580.90,473.29 L582.80,473.40 L584.68,473.50 L586.55,473.58 L588.42,473.67 L590.30,473.80 L592.20,473.98 L594.10,474.20 L596.00,474.44 L597.90,474.70 L599.78,475.00 L601.65,475.33 L603.52,475.65 L605.40,475.90 L607.07,476.05 L608.61,476.14 L610.44,476.21 L613.00,476.30 L616.12,476.43 L619.67,476.57 L624.13,476.70 L630.00,476.80 L638.68,476.86 L649.49,476.88 L659.76,476.89 L666.85,476.90" stroke="#ff0d0d"/>
</g>
<text x="391.6" y="281.1" font-size="14" text-anchor="start" font-family="'Liberation Serif','DejaVu Serif',serif" font-weight="bold" >(d)</text>
<rect x="590.1" y="274.1" width="65.9" height="86" fill="#fff" stroke="#555" stroke-width="0.6"/>
<line x1="591.1" x2="618" y1="282.6" y2="282.6" stroke="#551a8b" stroke-width="2.0"/>
<text x="623" y="286.3" font-size="11" text-anchor="start" font-family="'Liberation Serif','DejaVu Serif',serif" font-weight="bold"  stroke="#000" stroke-width="0.18">1.9</text>
<line x1="591.1" x2="618" y1="296.6" y2="296.6" stroke="#0a0aa5" stroke-width="2.0"/>
<text x="623" y="300.3" font-size="11" text-anchor="start" font-family="'Liberation Serif','DejaVu Serif',serif" font-weight="bold"  stroke="#000" stroke-width="0.18">55.71</text>
<line x1="591.1" x2="618" y1="310.6" y2="310.6" stroke="#1464b4" stroke-width="2.0"/>
<text x="623" y="314.3" font-size="11" text-anchor="start" font-family="'Liberation Serif','DejaVu Serif',serif" font-weight="bold"  stroke="#000" stroke-width="0.18">104.32</text>
<line x1="591.1" x2="618" y1="324.6" y2="324.6" stroke="#7ddc1f" stroke-width="2.0"/>
<text x="623" y="328.3" font-size="11" text-anchor="start" font-family="'Liberation Serif','DejaVu Serif',serif" font-weight="bold"  stroke="#000" stroke-width="0.18">154.51</text>
<line x1="591.1" x2="618" y1="338.6" y2="338.6" stroke="#ff9900" stroke-width="2.0"/>
<text x="623" y="342.3" font-size="11" text-anchor="start" font-family="'Liberation Serif','DejaVu Serif',serif" font-weight="bold"  stroke="#000" stroke-width="0.18">208.61</text>
<line x1="591.1" x2="618" y1="352.6" y2="352.6" stroke="#ff0d0d" stroke-width="2.0"/>
<text x="623" y="356.3" font-size="11" text-anchor="start" font-family="'Liberation Serif','DejaVu Serif',serif" font-weight="bold"  stroke="#000" stroke-width="0.18">248.34</text>
</g>
</svg>
</body></html>
